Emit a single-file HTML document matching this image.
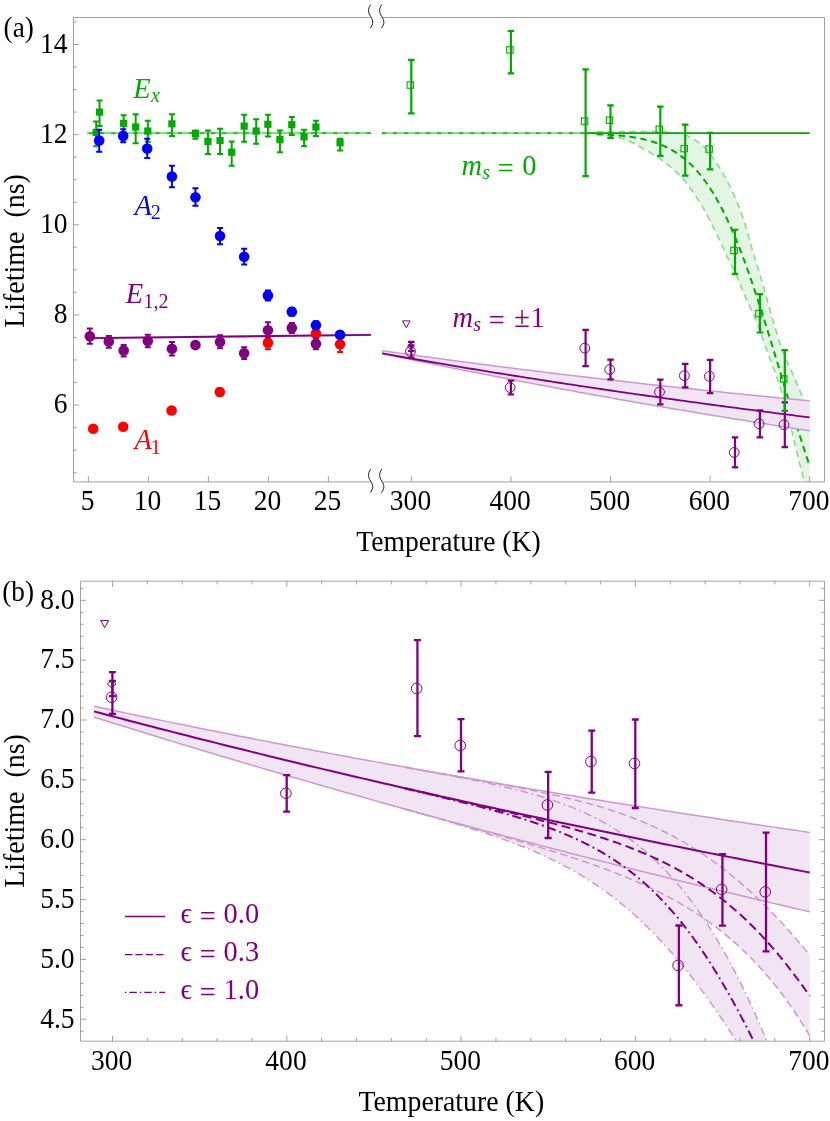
<!DOCTYPE html>
<html><head><meta charset="utf-8"><title>Lifetime vs Temperature</title>
<style>html,body{margin:0;padding:0;background:#fff;}svg{display:block;will-change:transform;}</style></head>
<body>
<svg width="830" height="1121" viewBox="0 0 830 1121">
<rect width="830" height="1121" fill="#fff"/>
<defs>
<clipPath id="ca"><rect x="73.5" y="17.5" width="751.0" height="464.4"/></clipPath>
<clipPath id="cb"><rect x="80.5" y="581.2" width="744.0" height="460.0"/></clipPath>
</defs>
<g clip-path="url(#ca)">
<path d="M87,133.06H371" stroke="#8fd88f" stroke-width="2.4"/>
<path d="M87,133.06H371" stroke="#00aa00" stroke-width="1.3" stroke-dasharray="4.2 6.9" stroke-dashoffset="-2"/>
<path d="M89.4,339.20L371,335.90L371,333.70L89.4,337.00Z" fill="#cc99cc" opacity="0.7"/>
<path d="M89.4,338.2L371,334.9" stroke="#800080" stroke-width="1.8"/>
<path d="M590.58,131.82 L591.31,131.80 L592.05,131.79 L592.78,131.77 L593.51,131.76 L594.24,131.74 L594.98,131.72 L595.71,131.71 L596.44,131.69 L597.18,131.67 L597.91,131.66 L598.64,131.64 L599.37,131.63 L600.11,131.61 L600.84,131.60 L601.57,131.58 L602.31,131.57 L603.04,131.56 L603.77,131.54 L604.50,131.53 L605.24,131.52 L605.97,131.51 L606.70,131.51 L607.44,131.50 L608.17,131.49 L608.90,131.49 L609.63,131.49 L610.37,131.49 L611.10,131.49 L611.83,131.49 L612.57,131.49 L613.30,131.49 L614.03,131.49 L614.76,131.49 L615.50,131.49 L616.23,131.49 L616.96,131.49 L617.70,131.49 L618.43,131.49 L619.16,131.49 L619.89,131.49 L620.63,131.49 L621.36,131.49 L622.09,131.49 L622.83,131.49 L623.56,131.49 L624.29,131.49 L625.02,131.49 L625.76,131.49 L626.49,131.49 L627.22,131.49 L627.95,131.49 L628.69,131.49 L629.42,131.49 L630.15,131.49 L630.89,131.49 L631.62,131.49 L632.35,131.49 L633.08,131.49 L633.82,131.49 L634.55,131.49 L635.28,131.49 L636.02,131.49 L636.75,131.49 L637.48,131.49 L638.21,131.49 L638.95,131.49 L639.68,131.49 L640.41,131.49 L641.15,131.49 L641.88,131.49 L642.61,131.49 L643.34,131.49 L644.08,131.49 L644.81,131.49 L645.54,131.49 L646.28,131.49 L647.01,131.49 L647.74,131.49 L648.47,131.49 L649.21,131.49 L649.94,131.49 L650.67,131.49 L651.41,131.49 L652.14,131.50 L652.87,131.51 L653.60,131.52 L654.34,131.53 L655.07,131.55 L655.80,131.57 L656.54,131.60 L657.27,131.62 L658.00,131.65 L658.73,131.68 L659.47,131.72 L660.20,131.75 L660.93,131.79 L661.67,131.83 L662.40,131.87 L663.13,131.91 L663.86,131.96 L664.60,132.00 L665.33,132.05 L666.06,132.10 L666.80,132.15 L667.53,132.20 L668.26,132.25 L668.99,132.30 L669.73,132.35 L670.46,132.40 L671.19,132.46 L671.93,132.52 L672.66,132.59 L673.39,132.66 L674.12,132.75 L674.86,132.83 L675.59,132.93 L676.32,133.03 L677.06,133.14 L677.79,133.25 L678.52,133.37 L679.25,133.50 L679.99,133.64 L680.72,133.78 L681.45,133.94 L682.19,134.12 L682.92,134.32 L683.65,134.54 L684.38,134.77 L685.12,135.03 L685.85,135.30 L686.58,135.59 L687.32,135.90 L688.05,136.22 L688.78,136.56 L689.51,136.91 L690.25,137.28 L690.98,137.66 L691.71,138.06 L692.45,138.47 L693.18,138.89 L693.91,139.33 L694.64,139.77 L695.38,140.23 L696.11,140.70 L696.84,141.18 L697.58,141.67 L698.31,142.17 L699.04,142.68 L699.77,143.19 L700.51,143.72 L701.24,144.25 L701.97,144.83 L702.70,145.46 L703.44,146.13 L704.17,146.86 L704.90,147.62 L705.64,148.42 L706.37,149.26 L707.10,150.13 L707.83,151.04 L708.57,151.97 L709.30,152.92 L710.03,153.89 L710.77,154.89 L711.50,155.90 L712.23,156.92 L712.96,157.95 L713.70,158.99 L714.43,160.03 L715.16,161.07 L715.90,162.12 L716.63,163.19 L717.36,164.29 L718.09,165.41 L718.83,166.56 L719.56,167.74 L720.29,168.94 L721.03,170.16 L721.76,171.40 L722.49,172.66 L723.22,173.95 L723.96,175.26 L724.69,176.59 L725.42,177.94 L726.16,179.30 L726.89,180.69 L727.62,182.10 L728.35,183.52 L729.09,184.96 L729.82,186.42 L730.55,187.89 L731.29,189.40 L732.02,190.92 L732.75,192.48 L733.48,194.06 L734.22,195.67 L734.95,197.31 L735.68,198.98 L736.42,200.69 L737.15,202.43 L737.88,204.21 L738.61,206.02 L739.35,207.88 L740.08,209.77 L740.81,211.71 L741.55,213.69 L742.28,215.72 L743.01,217.86 L743.74,220.10 L744.48,222.44 L745.21,224.86 L745.94,227.34 L746.68,229.87 L747.41,232.45 L748.14,235.05 L748.87,237.67 L749.61,240.29 L750.34,242.89 L751.07,245.48 L751.81,248.02 L752.54,250.52 L753.27,252.96 L754.00,255.36 L754.74,257.75 L755.47,260.12 L756.20,262.48 L756.94,264.83 L757.67,267.18 L758.40,269.54 L759.13,271.91 L759.87,274.29 L760.60,276.70 L761.33,279.13 L762.07,281.59 L762.80,284.09 L763.53,286.64 L764.26,289.24 L765.00,291.89 L765.73,294.56 L766.46,297.26 L767.20,299.96 L767.93,302.67 L768.66,305.38 L769.39,308.06 L770.13,310.72 L770.86,313.35 L771.59,315.92 L772.33,318.45 L773.06,320.91 L773.79,323.37 L774.52,325.83 L775.26,328.28 L775.99,330.72 L776.72,333.13 L777.45,335.52 L778.19,337.87 L778.92,340.17 L779.65,342.43 L780.39,344.64 L781.12,346.77 L781.85,348.84 L782.58,350.84 L783.32,352.75 L784.05,354.58 L784.78,356.34 L785.52,358.05 L786.25,359.71 L786.98,361.33 L787.71,362.92 L788.45,364.50 L789.18,366.07 L789.91,367.64 L790.65,369.22 L791.38,370.82 L792.11,372.46 L792.84,374.14 L793.58,375.84 L794.31,377.56 L795.04,379.29 L795.78,381.02 L796.51,382.77 L797.24,384.51 L797.97,386.26 L798.71,388.02 L799.44,389.77 L800.17,391.53 L800.91,393.28 L801.64,395.03 L802.37,396.77 L803.10,398.50 L803.84,400.24 L804.57,401.97 L805.30,403.70 L806.04,405.43 L806.77,407.16 L807.50,408.89 L808.23,410.62 L808.97,412.35 L809.70,414.07 L809.70,504.21 L808.97,500.94 L808.23,497.71 L807.50,494.54 L806.77,491.41 L806.04,488.33 L805.30,485.31 L804.57,482.33 L803.84,479.42 L803.10,476.61 L802.37,473.84 L801.64,471.10 L800.91,468.33 L800.17,465.53 L799.44,462.65 L798.71,459.72 L797.97,456.75 L797.24,453.74 L796.51,450.69 L795.78,447.63 L795.04,444.53 L794.31,441.43 L793.58,438.32 L792.84,435.20 L792.11,432.09 L791.38,428.99 L790.65,425.91 L789.91,422.85 L789.18,419.82 L788.45,416.82 L787.71,413.87 L786.98,410.96 L786.25,408.10 L785.52,405.31 L784.78,402.58 L784.05,399.92 L783.32,397.34 L782.58,394.84 L781.85,392.43 L781.12,390.09 L780.39,387.82 L779.65,385.60 L778.92,383.42 L778.19,381.28 L777.45,379.17 L776.72,377.07 L775.99,374.97 L775.26,372.88 L774.52,370.81 L773.79,368.76 L773.06,366.75 L772.33,364.75 L771.59,362.76 L770.86,360.80 L770.13,358.83 L769.39,356.88 L768.66,354.93 L767.93,352.97 L767.20,351.01 L766.46,349.04 L765.73,347.06 L765.00,345.06 L764.26,343.04 L763.53,341.00 L762.80,338.95 L762.07,336.89 L761.33,334.84 L760.60,332.80 L759.87,330.77 L759.13,328.76 L758.40,326.78 L757.67,324.84 L756.94,322.93 L756.20,321.08 L755.47,319.28 L754.74,317.52 L754.00,315.82 L753.27,314.15 L752.54,312.51 L751.81,310.90 L751.07,309.31 L750.34,307.74 L749.61,306.17 L748.87,304.60 L748.14,303.03 L747.41,301.45 L746.68,299.85 L745.94,298.22 L745.21,296.57 L744.48,294.88 L743.74,293.15 L743.01,291.38 L742.28,289.59 L741.55,287.78 L740.81,285.97 L740.08,284.16 L739.35,282.37 L738.61,280.60 L737.88,278.87 L737.15,277.18 L736.42,275.54 L735.68,273.95 L734.95,272.40 L734.22,270.89 L733.48,269.40 L732.75,267.94 L732.02,266.48 L731.29,265.04 L730.55,263.59 L729.82,262.13 L729.09,260.67 L728.35,259.18 L727.62,257.66 L726.89,256.12 L726.16,254.56 L725.42,252.98 L724.69,251.38 L723.96,249.78 L723.22,248.16 L722.49,246.55 L721.76,244.93 L721.03,243.31 L720.29,241.70 L719.56,240.10 L718.83,238.51 L718.09,236.93 L717.36,235.38 L716.63,233.84 L715.90,232.34 L715.16,230.86 L714.43,229.39 L713.70,227.93 L712.96,226.46 L712.23,225.01 L711.50,223.56 L710.77,222.12 L710.03,220.69 L709.30,219.27 L708.57,217.86 L707.83,216.47 L707.10,215.09 L706.37,213.74 L705.64,212.39 L704.90,211.07 L704.17,209.78 L703.44,208.50 L702.70,207.25 L701.97,206.02 L701.24,204.82 L700.51,203.65 L699.77,202.48 L699.04,201.32 L698.31,200.16 L697.58,199.02 L696.84,197.88 L696.11,196.74 L695.38,195.62 L694.64,194.51 L693.91,193.41 L693.18,192.33 L692.45,191.25 L691.71,190.19 L690.98,189.14 L690.25,188.11 L689.51,187.09 L688.78,186.09 L688.05,185.10 L687.32,184.13 L686.58,183.18 L685.85,182.25 L685.12,181.34 L684.38,180.45 L683.65,179.58 L682.92,178.73 L682.19,177.90 L681.45,177.10 L680.72,176.31 L679.99,175.55 L679.25,174.81 L678.52,174.08 L677.79,173.36 L677.06,172.65 L676.32,171.95 L675.59,171.27 L674.86,170.59 L674.12,169.93 L673.39,169.28 L672.66,168.64 L671.93,168.00 L671.19,167.38 L670.46,166.77 L669.73,166.17 L668.99,165.57 L668.26,164.98 L667.53,164.41 L666.80,163.84 L666.06,163.27 L665.33,162.72 L664.60,162.17 L663.86,161.63 L663.13,161.09 L662.40,160.56 L661.67,160.04 L660.93,159.52 L660.20,159.00 L659.47,158.49 L658.73,157.99 L658.00,157.48 L657.27,156.99 L656.54,156.51 L655.80,156.03 L655.07,155.56 L654.34,155.10 L653.60,154.64 L652.87,154.20 L652.14,153.75 L651.41,153.32 L650.67,152.89 L649.94,152.46 L649.21,152.04 L648.47,151.62 L647.74,151.21 L647.01,150.80 L646.28,150.39 L645.54,149.99 L644.81,149.58 L644.08,149.18 L643.34,148.78 L642.61,148.38 L641.88,147.98 L641.15,147.58 L640.41,147.18 L639.68,146.77 L638.95,146.35 L638.21,145.94 L637.48,145.52 L636.75,145.10 L636.02,144.67 L635.28,144.26 L634.55,143.84 L633.82,143.43 L633.08,143.03 L632.35,142.63 L631.62,142.24 L630.89,141.86 L630.15,141.49 L629.42,141.14 L628.69,140.79 L627.95,140.47 L627.22,140.16 L626.49,139.86 L625.76,139.59 L625.02,139.33 L624.29,139.10 L623.56,138.88 L622.83,138.66 L622.09,138.45 L621.36,138.24 L620.63,138.04 L619.89,137.85 L619.16,137.66 L618.43,137.48 L617.70,137.31 L616.96,137.14 L616.23,136.98 L615.50,136.83 L614.76,136.68 L614.03,136.55 L613.30,136.42 L612.57,136.29 L611.83,136.18 L611.10,136.07 L610.37,135.97 L609.63,135.88 L608.90,135.78 L608.17,135.69 L607.44,135.59 L606.70,135.50 L605.97,135.41 L605.24,135.32 L604.50,135.23 L603.77,135.15 L603.04,135.07 L602.31,135.00 L601.57,134.93 L600.84,134.87 L600.11,134.81 L599.37,134.77 L598.64,134.72 L597.91,134.69 L597.18,134.66 L596.44,134.65 L595.71,134.64 L594.98,134.64 L594.24,134.64 L593.51,134.64 L592.78,134.64 L592.05,134.64 L591.31,134.64 L590.58,134.64Z" fill="#e3f6e3"/>
<path d="M382.02,133.06H599.56" stroke="#8fd88f" stroke-width="2.2"/>
<path d="M596.56,131.69 L597.27,131.67 L597.98,131.66 L598.69,131.64 L599.41,131.63 L600.12,131.61 L600.83,131.60 L601.55,131.58 L602.26,131.57 L602.97,131.56 L603.68,131.54 L604.40,131.53 L605.11,131.52 L605.82,131.51 L606.54,131.51 L607.25,131.50 L607.96,131.49 L608.67,131.49 L609.39,131.49 L610.10,131.49 L610.81,131.49 L611.53,131.49 L612.24,131.49 L612.95,131.49 L613.66,131.49 L614.38,131.49 L615.09,131.49 L615.80,131.49 L616.52,131.49 L617.23,131.49 L617.94,131.49 L618.65,131.49 L619.37,131.49 L620.08,131.49 L620.79,131.49 L621.51,131.49 L622.22,131.49 L622.93,131.49 L623.64,131.49 L624.36,131.49 L625.07,131.49 L625.78,131.49 L626.50,131.49 L627.21,131.49 L627.92,131.49 L628.63,131.49 L629.35,131.49 L630.06,131.49 L630.77,131.49 L631.49,131.49 L632.20,131.49 L632.91,131.49 L633.62,131.49 L634.34,131.49 L635.05,131.49 L635.76,131.49 L636.48,131.49 L637.19,131.49 L637.90,131.49 L638.61,131.49 L639.33,131.49 L640.04,131.49 L640.75,131.49 L641.47,131.49 L642.18,131.49 L642.89,131.49 L643.60,131.49 L644.32,131.49 L645.03,131.49 L645.74,131.49 L646.46,131.49 L647.17,131.49 L647.88,131.49 L648.59,131.49 L649.31,131.49 L650.02,131.49 L650.73,131.49 L651.45,131.49 L652.16,131.50 L652.87,131.51 L653.58,131.52 L654.30,131.53 L655.01,131.55 L655.72,131.57 L656.44,131.59 L657.15,131.62 L657.86,131.65 L658.57,131.68 L659.29,131.71 L660.00,131.74 L660.71,131.78 L661.43,131.82 L662.14,131.86 L662.85,131.90 L663.56,131.94 L664.28,131.98 L664.99,132.03 L665.70,132.07 L666.42,132.12 L667.13,132.17 L667.84,132.22 L668.55,132.27 L669.27,132.32 L669.98,132.37 L670.69,132.42 L671.41,132.48 L672.12,132.54 L672.83,132.61 L673.54,132.68 L674.26,132.76 L674.97,132.85 L675.68,132.94 L676.40,133.04 L677.11,133.15 L677.82,133.26 L678.53,133.38 L679.25,133.50 L679.96,133.63 L680.67,133.77 L681.39,133.92 L682.10,134.10 L682.81,134.29 L683.52,134.50 L684.24,134.72 L684.95,134.97 L685.66,135.23 L686.38,135.51 L687.09,135.80 L687.80,136.11 L688.51,136.43 L689.23,136.77 L689.94,137.12 L690.65,137.49 L691.37,137.87 L692.08,138.26 L692.79,138.67 L693.50,139.08 L694.22,139.51 L694.93,139.95 L695.64,140.40 L696.36,140.86 L697.07,141.33 L697.78,141.81 L698.49,142.30 L699.21,142.79 L699.92,143.30 L700.63,143.81 L701.35,144.34 L702.06,144.90 L702.77,145.52 L703.48,146.18 L704.20,146.88 L704.91,147.63 L705.62,148.41 L706.34,149.22 L707.05,150.07 L707.76,150.94 L708.47,151.85 L709.19,152.77 L709.90,153.72 L710.61,154.68 L711.33,155.66 L712.04,156.65 L712.75,157.65 L713.46,158.66 L714.18,159.67 L714.89,160.68 L715.60,161.69 L716.32,162.73 L717.03,163.79 L717.74,164.87 L718.45,165.98 L719.17,167.11 L719.88,168.26 L720.59,169.43 L721.31,170.63 L722.02,171.85 L722.73,173.08 L723.44,174.34 L724.16,175.62 L724.87,176.92 L725.58,178.23 L726.30,179.57 L727.01,180.92 L727.72,182.29 L728.43,183.67 L729.15,185.08 L729.86,186.50 L730.57,187.94 L731.29,189.40 L732.00,190.88 L732.71,192.39 L733.42,193.93 L734.14,195.49 L734.85,197.08 L735.56,198.71 L736.28,200.36 L736.99,202.05 L737.70,203.77 L738.41,205.52 L739.13,207.32 L739.84,209.15 L740.55,211.02 L741.27,212.93 L741.98,214.88 L742.69,216.92 L743.40,219.05 L744.12,221.28 L744.83,223.59 L745.54,225.98 L746.26,228.41 L746.97,230.90 L747.68,233.41 L748.39,235.95 L749.11,238.50 L749.82,241.05 L750.53,243.58 L751.25,246.08 L751.96,248.55 L752.67,250.97 L753.38,253.33 L754.10,255.67 L754.81,257.99 L755.52,260.29 L756.24,262.58 L756.95,264.87 L757.66,267.16 L758.37,269.45 L759.09,271.76 L759.80,274.07 L760.51,276.41 L761.23,278.77 L761.94,281.16 L762.65,283.58 L763.36,286.06 L764.08,288.58 L764.79,291.14 L765.50,293.73 L766.22,296.35 L766.93,298.98 L767.64,301.61 L768.35,304.25 L769.07,306.87 L769.78,309.47 L770.49,312.04 L771.21,314.57 L771.92,317.06 L772.63,319.49 L773.34,321.88 L774.06,324.27 L774.77,326.66 L775.48,329.04 L776.20,331.40 L776.91,333.74 L777.62,336.05 L778.33,338.33 L779.05,340.57 L779.76,342.76 L780.47,344.89 L781.19,346.97 L781.90,348.97 L782.61,350.91 L783.32,352.76 L784.04,354.55 L784.75,356.26 L785.46,357.93 L786.18,359.54 L786.89,361.13 L787.60,362.68 L788.31,364.21 L789.03,365.74 L789.74,367.26 L790.45,368.80 L791.17,370.35 L791.88,371.94 L792.59,373.55 L793.30,375.21 L794.02,376.87 L794.73,378.55 L795.44,380.23 L796.16,381.93 L796.87,383.62 L797.58,385.33 L798.29,387.03 L799.01,388.74 L799.72,390.44 L800.43,392.15 L801.15,393.85 L801.86,395.55 L802.57,397.24 L803.28,398.93 L804.00,400.62 L804.71,402.30 L805.42,403.99 L806.14,405.67 L806.85,407.35 L807.56,409.03 L808.27,410.71 L808.99,412.39 L809.70,414.07" stroke="#8fd88f" stroke-width="1.6" fill="none" stroke-dasharray="6.5 4.5"/>
<path d="M596.56,134.65 L597.27,134.67 L597.98,134.69 L598.69,134.73 L599.41,134.77 L600.12,134.82 L600.83,134.87 L601.55,134.93 L602.26,135.00 L602.97,135.07 L603.68,135.14 L604.40,135.22 L605.11,135.30 L605.82,135.39 L606.54,135.48 L607.25,135.57 L607.96,135.66 L608.67,135.75 L609.39,135.85 L610.10,135.94 L610.81,136.03 L611.53,136.13 L612.24,136.24 L612.95,136.36 L613.66,136.48 L614.38,136.61 L615.09,136.75 L615.80,136.89 L616.52,137.04 L617.23,137.20 L617.94,137.37 L618.65,137.54 L619.37,137.72 L620.08,137.90 L620.79,138.09 L621.51,138.28 L622.22,138.49 L622.93,138.69 L623.64,138.90 L624.36,139.12 L625.07,139.35 L625.78,139.60 L626.50,139.86 L627.21,140.15 L627.92,140.45 L628.63,140.77 L629.35,141.10 L630.06,141.45 L630.77,141.80 L631.49,142.17 L632.20,142.55 L632.91,142.93 L633.62,143.32 L634.34,143.72 L635.05,144.12 L635.76,144.53 L636.48,144.94 L637.19,145.35 L637.90,145.76 L638.61,146.16 L639.33,146.57 L640.04,146.97 L640.75,147.37 L641.47,147.76 L642.18,148.15 L642.89,148.54 L643.60,148.92 L644.32,149.31 L645.03,149.70 L645.74,150.10 L646.46,150.49 L647.17,150.89 L647.88,151.29 L648.59,151.69 L649.31,152.10 L650.02,152.51 L650.73,152.92 L651.45,153.34 L652.16,153.77 L652.87,154.20 L653.58,154.63 L654.30,155.07 L655.01,155.52 L655.72,155.98 L656.44,156.44 L657.15,156.91 L657.86,157.39 L658.57,157.88 L659.29,158.37 L660.00,158.86 L660.71,159.36 L661.43,159.86 L662.14,160.37 L662.85,160.89 L663.56,161.41 L664.28,161.93 L664.99,162.46 L665.70,163.00 L666.42,163.54 L667.13,164.09 L667.84,164.65 L668.55,165.22 L669.27,165.79 L669.98,166.37 L670.69,166.96 L671.41,167.56 L672.12,168.17 L672.83,168.79 L673.54,169.41 L674.26,170.05 L674.97,170.70 L675.68,171.35 L676.40,172.02 L677.11,172.70 L677.82,173.39 L678.53,174.09 L679.25,174.80 L679.96,175.53 L680.67,176.27 L681.39,177.02 L682.10,177.80 L682.81,178.61 L683.52,179.43 L684.24,180.27 L684.95,181.13 L685.66,182.02 L686.38,182.92 L687.09,183.84 L687.80,184.77 L688.51,185.73 L689.23,186.70 L689.94,187.68 L690.65,188.68 L691.37,189.69 L692.08,190.72 L692.79,191.76 L693.50,192.81 L694.22,193.87 L694.93,194.95 L695.64,196.03 L696.36,197.12 L697.07,198.23 L697.78,199.34 L698.49,200.46 L699.21,201.58 L699.92,202.71 L700.63,203.85 L701.35,205.00 L702.06,206.17 L702.77,207.36 L703.48,208.58 L704.20,209.82 L704.91,211.09 L705.62,212.37 L706.34,213.67 L707.05,215.00 L707.76,216.33 L708.47,217.69 L709.19,219.05 L709.90,220.43 L710.61,221.82 L711.33,223.22 L712.04,224.63 L712.75,226.04 L713.46,227.46 L714.18,228.88 L714.89,230.31 L715.60,231.74 L716.32,233.20 L717.03,234.68 L717.74,236.18 L718.45,237.70 L719.17,239.24 L719.88,240.79 L720.59,242.36 L721.31,243.93 L722.02,245.50 L722.73,247.07 L723.44,248.65 L724.16,250.22 L724.87,251.78 L725.58,253.32 L726.30,254.86 L727.01,256.38 L727.72,257.87 L728.43,259.34 L729.15,260.79 L729.86,262.21 L730.57,263.63 L731.29,265.04 L732.00,266.44 L732.71,267.86 L733.42,269.28 L734.14,270.73 L734.85,272.19 L735.56,273.69 L736.28,275.23 L736.99,276.81 L737.70,278.45 L738.41,280.12 L739.13,281.84 L739.84,283.58 L740.55,285.33 L741.27,287.09 L741.98,288.85 L742.69,290.60 L743.40,292.33 L744.12,294.04 L744.83,295.70 L745.54,297.33 L746.26,298.92 L746.97,300.49 L747.68,302.04 L748.39,303.57 L749.11,305.10 L749.82,306.63 L750.53,308.15 L751.25,309.69 L751.96,311.24 L752.67,312.81 L753.38,314.40 L754.10,316.03 L754.81,317.70 L755.52,319.41 L756.24,321.16 L756.95,322.97 L757.66,324.82 L758.37,326.71 L759.09,328.63 L759.80,330.58 L760.51,332.55 L761.23,334.54 L761.94,336.54 L762.65,338.53 L763.36,340.53 L764.08,342.52 L764.79,344.49 L765.50,346.45 L766.22,348.38 L766.93,350.30 L767.64,352.21 L768.35,354.11 L769.07,356.01 L769.78,357.91 L770.49,359.81 L771.21,361.72 L771.92,363.65 L772.63,365.58 L773.34,367.53 L774.06,369.50 L774.77,371.50 L775.48,373.52 L776.20,375.56 L776.91,377.60 L777.62,379.65 L778.33,381.71 L779.05,383.80 L779.76,385.92 L780.47,388.08 L781.19,390.30 L781.90,392.58 L782.61,394.93 L783.32,397.36 L784.04,399.87 L784.75,402.46 L785.46,405.11 L786.18,407.82 L786.89,410.59 L787.60,413.41 L788.31,416.28 L789.03,419.19 L789.74,422.13 L790.45,425.10 L791.17,428.10 L791.88,431.11 L792.59,434.13 L793.30,437.16 L794.02,440.19 L794.73,443.21 L795.44,446.22 L796.16,449.22 L796.87,452.19 L797.58,455.14 L798.29,458.05 L799.01,460.93 L799.72,463.75 L800.43,466.53 L801.15,469.24 L801.86,471.92 L802.57,474.59 L803.28,477.29 L804.00,480.05 L804.71,482.89 L805.42,485.80 L806.14,488.75 L806.85,491.75 L807.56,494.80 L808.27,497.89 L808.99,501.03 L809.70,504.21" stroke="#8fd88f" stroke-width="1.6" fill="none" stroke-dasharray="6.5 4.5"/>
<path d="M584.60,133.06H809.70" stroke="#00aa00" stroke-width="1.8"/>
<path d="M382.02,133.06H596.56" stroke="#00aa00" stroke-width="1.3" stroke-dasharray="4.2 6.8"/>
<path d="M596.56,134.08 L597.27,134.11 L597.98,134.14 L598.69,134.17 L599.41,134.20 L600.12,134.23 L600.83,134.26 L601.55,134.29 L602.26,134.33 L602.97,134.36 L603.68,134.40 L604.40,134.43 L605.11,134.47 L605.82,134.51 L606.54,134.55 L607.25,134.59 L607.96,134.63 L608.67,134.68 L609.39,134.72 L610.10,134.77 L610.81,134.82 L611.53,134.87 L612.24,134.92 L612.95,134.97 L613.66,135.02 L614.38,135.08 L615.09,135.13 L615.80,135.19 L616.52,135.25 L617.23,135.31 L617.94,135.38 L618.65,135.44 L619.37,135.51 L620.08,135.58 L620.79,135.65 L621.51,135.72 L622.22,135.80 L622.93,135.87 L623.64,135.95 L624.36,136.03 L625.07,136.12 L625.78,136.20 L626.50,136.29 L627.21,136.38 L627.92,136.47 L628.63,136.57 L629.35,136.67 L630.06,136.77 L630.77,136.87 L631.49,136.98 L632.20,137.08 L632.91,137.20 L633.62,137.31 L634.34,137.43 L635.05,137.55 L635.76,137.67 L636.48,137.80 L637.19,137.93 L637.90,138.06 L638.61,138.20 L639.33,138.34 L640.04,138.48 L640.75,138.63 L641.47,138.78 L642.18,138.94 L642.89,139.09 L643.60,139.26 L644.32,139.42 L645.03,139.60 L645.74,139.77 L646.46,139.95 L647.17,140.13 L647.88,140.32 L648.59,140.52 L649.31,140.71 L650.02,140.92 L650.73,141.13 L651.45,141.34 L652.16,141.56 L652.87,141.78 L653.58,142.01 L654.30,142.24 L655.01,142.48 L655.72,142.72 L656.44,142.97 L657.15,143.23 L657.86,143.49 L658.57,143.76 L659.29,144.04 L660.00,144.32 L660.71,144.60 L661.43,144.90 L662.14,145.20 L662.85,145.51 L663.56,145.82 L664.28,146.14 L664.99,146.47 L665.70,146.81 L666.42,147.15 L667.13,147.50 L667.84,147.86 L668.55,148.22 L669.27,148.60 L669.98,148.98 L670.69,149.37 L671.41,149.77 L672.12,150.18 L672.83,150.59 L673.54,151.02 L674.26,151.45 L674.97,151.90 L675.68,152.35 L676.40,152.81 L677.11,153.28 L677.82,153.76 L678.53,154.25 L679.25,154.75 L679.96,155.27 L680.67,155.79 L681.39,156.32 L682.10,156.86 L682.81,157.41 L683.52,157.98 L684.24,158.55 L684.95,159.14 L685.66,159.74 L686.38,160.35 L687.09,160.97 L687.80,161.60 L688.51,162.25 L689.23,162.90 L689.94,163.57 L690.65,164.25 L691.37,164.95 L692.08,165.66 L692.79,166.38 L693.50,167.11 L694.22,167.86 L694.93,168.62 L695.64,169.39 L696.36,170.18 L697.07,170.98 L697.78,171.80 L698.49,172.63 L699.21,173.47 L699.92,174.33 L700.63,175.21 L701.35,176.10 L702.06,177.00 L702.77,177.92 L703.48,178.85 L704.20,179.80 L704.91,180.77 L705.62,181.75 L706.34,182.74 L707.05,183.76 L707.76,184.79 L708.47,185.83 L709.19,186.89 L709.90,187.97 L710.61,189.06 L711.33,190.17 L712.04,191.30 L712.75,192.44 L713.46,193.61 L714.18,194.78 L714.89,195.98 L715.60,197.19 L716.32,198.42 L717.03,199.67 L717.74,200.94 L718.45,202.22 L719.17,203.52 L719.88,204.84 L720.59,206.17 L721.31,207.53 L722.02,208.90 L722.73,210.29 L723.44,211.69 L724.16,213.12 L724.87,214.56 L725.58,216.02 L726.30,217.50 L727.01,219.00 L727.72,220.51 L728.43,222.05 L729.15,223.60 L729.86,225.17 L730.57,226.75 L731.29,228.36 L732.00,229.98 L732.71,231.62 L733.42,233.28 L734.14,234.95 L734.85,236.65 L735.56,238.36 L736.28,240.09 L736.99,241.83 L737.70,243.60 L738.41,245.38 L739.13,247.17 L739.84,248.99 L740.55,250.82 L741.27,252.67 L741.98,254.53 L742.69,256.41 L743.40,258.31 L744.12,260.22 L744.83,262.15 L745.54,264.09 L746.26,266.05 L746.97,268.03 L747.68,270.02 L748.39,272.02 L749.11,274.04 L749.82,276.07 L750.53,278.12 L751.25,280.18 L751.96,282.26 L752.67,284.35 L753.38,286.45 L754.10,288.57 L754.81,290.69 L755.52,292.83 L756.24,294.99 L756.95,297.15 L757.66,299.32 L758.37,301.51 L759.09,303.71 L759.80,305.92 L760.51,308.13 L761.23,310.36 L761.94,312.60 L762.65,314.85 L763.36,317.10 L764.08,319.37 L764.79,321.64 L765.50,323.92 L766.22,326.21 L766.93,328.51 L767.64,330.81 L768.35,333.12 L769.07,335.43 L769.78,337.75 L770.49,340.08 L771.21,342.41 L771.92,344.74 L772.63,347.08 L773.34,349.43 L774.06,351.78 L774.77,354.13 L775.48,356.48 L776.20,358.84 L776.91,361.19 L777.62,363.55 L778.33,365.91 L779.05,368.27 L779.76,370.64 L780.47,373.00 L781.19,375.36 L781.90,377.72 L782.61,380.08 L783.32,382.44 L784.04,384.80 L784.75,387.15 L785.46,389.51 L786.18,391.86 L786.89,394.20 L787.60,396.55 L788.31,398.89 L789.03,401.22 L789.74,403.56 L790.45,405.88 L791.17,408.20 L791.88,410.52 L792.59,412.83 L793.30,415.13 L794.02,417.43 L794.73,419.72 L795.44,422.01 L796.16,424.28 L796.87,426.55 L797.58,428.82 L798.29,431.07 L799.01,433.31 L799.72,435.55 L800.43,437.78 L801.15,440.00 L801.86,442.21 L802.57,444.41 L803.28,446.59 L804.00,448.77 L804.71,450.94 L805.42,453.10 L806.14,455.25 L806.85,457.39 L807.56,459.51 L808.27,461.63 L808.99,463.73 L809.70,465.82" stroke="#00aa00" stroke-width="2.0" fill="none" stroke-dasharray="6.5 4.5"/>
<path d="M382.02,350.68 L386.34,351.29 L390.66,351.91 L394.98,352.52 L399.30,353.13 L403.62,353.74 L407.94,354.35 L412.26,354.95 L416.58,355.55 L420.90,356.15 L425.22,356.74 L429.54,357.33 L433.86,357.92 L438.18,358.51 L442.50,359.09 L446.82,359.68 L451.14,360.25 L455.46,360.83 L459.78,361.40 L464.10,361.98 L468.42,362.55 L472.74,363.11 L477.06,363.68 L481.38,364.24 L485.70,364.80 L490.02,365.35 L494.34,365.91 L498.66,366.46 L502.98,367.01 L507.30,367.56 L511.62,368.10 L515.94,368.65 L520.26,369.19 L524.58,369.73 L528.90,370.26 L533.22,370.80 L537.54,371.33 L541.86,371.86 L546.18,372.38 L550.50,372.91 L554.82,373.43 L559.14,373.95 L563.46,374.47 L567.78,374.99 L572.10,375.50 L576.42,376.01 L580.74,376.52 L585.06,377.03 L589.38,377.54 L593.70,378.04 L598.02,378.54 L602.34,379.04 L606.66,379.54 L610.98,380.03 L615.30,380.53 L619.62,381.02 L623.94,381.51 L628.26,382.00 L632.58,382.48 L636.90,382.97 L641.22,383.45 L645.54,383.93 L649.86,384.41 L654.18,384.88 L658.50,385.36 L662.82,385.83 L667.14,386.30 L671.46,386.77 L675.78,387.23 L680.10,387.70 L684.42,388.16 L688.74,388.62 L693.06,389.08 L697.38,389.54 L701.70,389.99 L706.02,390.45 L710.34,390.90 L714.66,391.35 L718.98,391.80 L723.30,392.25 L727.62,392.69 L731.94,393.14 L736.26,393.58 L740.58,394.02 L744.90,394.46 L749.22,394.89 L753.54,395.33 L757.86,395.76 L762.18,396.19 L766.50,396.62 L770.82,397.05 L775.14,397.48 L779.46,397.90 L783.78,398.33 L788.10,398.75 L792.42,399.17 L796.74,399.59 L801.06,400.01 L805.38,400.42 L809.70,400.84 L809.70,430.73 L805.38,430.07 L801.06,429.40 L796.74,428.73 L792.42,428.07 L788.10,427.39 L783.78,426.72 L779.46,426.05 L775.14,425.37 L770.82,424.69 L766.50,424.01 L762.18,423.32 L757.86,422.63 L753.54,421.94 L749.22,421.25 L744.90,420.56 L740.58,419.86 L736.26,419.17 L731.94,418.46 L727.62,417.76 L723.30,417.06 L718.98,416.35 L714.66,415.64 L710.34,414.93 L706.02,414.21 L701.70,413.49 L697.38,412.77 L693.06,412.05 L688.74,411.33 L684.42,410.60 L680.10,409.87 L675.78,409.14 L671.46,408.41 L667.14,407.67 L662.82,406.93 L658.50,406.19 L654.18,405.45 L649.86,404.70 L645.54,403.96 L641.22,403.20 L636.90,402.45 L632.58,401.70 L628.26,400.94 L623.94,400.18 L619.62,399.41 L615.30,398.65 L610.98,397.88 L606.66,397.11 L602.34,396.34 L598.02,395.56 L593.70,394.78 L589.38,394.00 L585.06,393.22 L580.74,392.43 L576.42,391.65 L572.10,390.86 L567.78,390.06 L563.46,389.27 L559.14,388.47 L554.82,387.67 L550.50,386.86 L546.18,386.06 L541.86,385.25 L537.54,384.44 L533.22,383.62 L528.90,382.81 L524.58,381.99 L520.26,381.17 L515.94,380.34 L511.62,379.52 L507.30,378.69 L502.98,377.85 L498.66,377.02 L494.34,376.18 L490.02,375.34 L485.70,374.50 L481.38,373.66 L477.06,372.81 L472.74,371.96 L468.42,371.10 L464.10,370.25 L459.78,369.39 L455.46,368.53 L451.14,367.66 L446.82,366.80 L442.50,365.93 L438.18,365.06 L433.86,364.18 L429.54,363.30 L425.22,362.42 L420.90,361.54 L416.58,360.66 L412.26,359.77 L407.94,358.88 L403.62,357.98 L399.30,357.09 L394.98,356.19 L390.66,355.29 L386.34,354.38 L382.02,353.61Z" fill="#f1e5f3"/>
<path d="M382.02,350.68 L386.34,351.29 L390.66,351.91 L394.98,352.52 L399.30,353.13 L403.62,353.74 L407.94,354.35 L412.26,354.95 L416.58,355.55 L420.90,356.15 L425.22,356.74 L429.54,357.33 L433.86,357.92 L438.18,358.51 L442.50,359.09 L446.82,359.68 L451.14,360.25 L455.46,360.83 L459.78,361.40 L464.10,361.98 L468.42,362.55 L472.74,363.11 L477.06,363.68 L481.38,364.24 L485.70,364.80 L490.02,365.35 L494.34,365.91 L498.66,366.46 L502.98,367.01 L507.30,367.56 L511.62,368.10 L515.94,368.65 L520.26,369.19 L524.58,369.73 L528.90,370.26 L533.22,370.80 L537.54,371.33 L541.86,371.86 L546.18,372.38 L550.50,372.91 L554.82,373.43 L559.14,373.95 L563.46,374.47 L567.78,374.99 L572.10,375.50 L576.42,376.01 L580.74,376.52 L585.06,377.03 L589.38,377.54 L593.70,378.04 L598.02,378.54 L602.34,379.04 L606.66,379.54 L610.98,380.03 L615.30,380.53 L619.62,381.02 L623.94,381.51 L628.26,382.00 L632.58,382.48 L636.90,382.97 L641.22,383.45 L645.54,383.93 L649.86,384.41 L654.18,384.88 L658.50,385.36 L662.82,385.83 L667.14,386.30 L671.46,386.77 L675.78,387.23 L680.10,387.70 L684.42,388.16 L688.74,388.62 L693.06,389.08 L697.38,389.54 L701.70,389.99 L706.02,390.45 L710.34,390.90 L714.66,391.35 L718.98,391.80 L723.30,392.25 L727.62,392.69 L731.94,393.14 L736.26,393.58 L740.58,394.02 L744.90,394.46 L749.22,394.89 L753.54,395.33 L757.86,395.76 L762.18,396.19 L766.50,396.62 L770.82,397.05 L775.14,397.48 L779.46,397.90 L783.78,398.33 L788.10,398.75 L792.42,399.17 L796.74,399.59 L801.06,400.01 L805.38,400.42 L809.70,400.84" stroke="#cc99cc" stroke-width="1.5" fill="none"/>
<path d="M382.02,353.61 L386.34,354.38 L390.66,355.29 L394.98,356.19 L399.30,357.09 L403.62,357.98 L407.94,358.88 L412.26,359.77 L416.58,360.66 L420.90,361.54 L425.22,362.42 L429.54,363.30 L433.86,364.18 L438.18,365.06 L442.50,365.93 L446.82,366.80 L451.14,367.66 L455.46,368.53 L459.78,369.39 L464.10,370.25 L468.42,371.10 L472.74,371.96 L477.06,372.81 L481.38,373.66 L485.70,374.50 L490.02,375.34 L494.34,376.18 L498.66,377.02 L502.98,377.85 L507.30,378.69 L511.62,379.52 L515.94,380.34 L520.26,381.17 L524.58,381.99 L528.90,382.81 L533.22,383.62 L537.54,384.44 L541.86,385.25 L546.18,386.06 L550.50,386.86 L554.82,387.67 L559.14,388.47 L563.46,389.27 L567.78,390.06 L572.10,390.86 L576.42,391.65 L580.74,392.43 L585.06,393.22 L589.38,394.00 L593.70,394.78 L598.02,395.56 L602.34,396.34 L606.66,397.11 L610.98,397.88 L615.30,398.65 L619.62,399.41 L623.94,400.18 L628.26,400.94 L632.58,401.70 L636.90,402.45 L641.22,403.20 L645.54,403.96 L649.86,404.70 L654.18,405.45 L658.50,406.19 L662.82,406.93 L667.14,407.67 L671.46,408.41 L675.78,409.14 L680.10,409.87 L684.42,410.60 L688.74,411.33 L693.06,412.05 L697.38,412.77 L701.70,413.49 L706.02,414.21 L710.34,414.93 L714.66,415.64 L718.98,416.35 L723.30,417.06 L727.62,417.76 L731.94,418.46 L736.26,419.17 L740.58,419.86 L744.90,420.56 L749.22,421.25 L753.54,421.94 L757.86,422.63 L762.18,423.32 L766.50,424.01 L770.82,424.69 L775.14,425.37 L779.46,426.05 L783.78,426.72 L788.10,427.39 L792.42,428.07 L796.74,428.73 L801.06,429.40 L805.38,430.07 L809.70,430.73" stroke="#cc99cc" stroke-width="1.5" fill="none"/>
<path d="M382.02,353.43 L386.34,354.20 L390.66,354.97 L394.98,355.73 L399.30,356.50 L403.62,357.25 L407.94,358.01 L412.26,358.76 L416.58,359.51 L420.90,360.26 L425.22,361.01 L429.54,361.75 L433.86,362.49 L438.18,363.22 L442.50,363.96 L446.82,364.69 L451.14,365.41 L455.46,366.14 L459.78,366.86 L464.10,367.58 L468.42,368.30 L472.74,369.01 L477.06,369.72 L481.38,370.43 L485.70,371.14 L490.02,371.84 L494.34,372.54 L498.66,373.24 L502.98,373.93 L507.30,374.63 L511.62,375.32 L515.94,376.00 L520.26,376.69 L524.58,377.37 L528.90,378.05 L533.22,378.73 L537.54,379.40 L541.86,380.08 L546.18,380.75 L550.50,381.41 L554.82,382.08 L559.14,382.74 L563.46,383.40 L567.78,384.06 L572.10,384.72 L576.42,385.37 L580.74,386.02 L585.06,386.67 L589.38,387.31 L593.70,387.96 L598.02,388.60 L602.34,389.24 L606.66,389.87 L610.98,390.51 L615.30,391.14 L619.62,391.77 L623.94,392.40 L628.26,393.02 L632.58,393.65 L636.90,394.27 L641.22,394.89 L645.54,395.50 L649.86,396.12 L654.18,396.73 L658.50,397.34 L662.82,397.95 L667.14,398.55 L671.46,399.16 L675.78,399.76 L680.10,400.36 L684.42,400.96 L688.74,401.55 L693.06,402.14 L697.38,402.73 L701.70,403.32 L706.02,403.91 L710.34,404.50 L714.66,405.08 L718.98,405.66 L723.30,406.24 L727.62,406.82 L731.94,407.39 L736.26,407.96 L740.58,408.53 L744.90,409.10 L749.22,409.67 L753.54,410.23 L757.86,410.80 L762.18,411.36 L766.50,411.92 L770.82,412.48 L775.14,413.03 L779.46,413.58 L783.78,414.14 L788.10,414.69 L792.42,415.23 L796.74,415.78 L801.06,416.32 L805.38,416.87 L809.70,417.41" stroke="#800080" stroke-width="1.8" fill="none"/>
<path d="M96.20,121.57V146.36M93.20,121.57H99.20M93.20,146.36H99.20" stroke="#00aa00" stroke-width="2.0" fill="none"/>
<rect x="92.60" y="128.79" width="7.2" height="7.2" fill="#00aa00"/>
<path d="M99.56,100.39V126.08M96.56,100.39H102.56M96.56,126.08H102.56" stroke="#00aa00" stroke-width="2.0" fill="none"/>
<rect x="95.96" y="108.51" width="7.2" height="7.2" fill="#00aa00"/>
<path d="M123.68,115.26V131.94M120.68,115.26H126.68M120.68,131.94H126.68" stroke="#00aa00" stroke-width="2.0" fill="none"/>
<rect x="120.08" y="119.77" width="7.2" height="7.2" fill="#00aa00"/>
<path d="M135.68,114.36V143.20M132.68,114.36H138.68M132.68,143.20H138.68" stroke="#00aa00" stroke-width="2.0" fill="none"/>
<rect x="132.08" y="123.38" width="7.2" height="7.2" fill="#00aa00"/>
<path d="M147.80,120.67V141.85M144.80,120.67H150.80M144.80,141.85H150.80" stroke="#00aa00" stroke-width="2.0" fill="none"/>
<rect x="144.20" y="127.43" width="7.2" height="7.2" fill="#00aa00"/>
<path d="M171.92,114.36V135.99M168.92,114.36H174.92M168.92,135.99H174.92" stroke="#00aa00" stroke-width="2.0" fill="none"/>
<rect x="168.32" y="120.22" width="7.2" height="7.2" fill="#00aa00"/>
<path d="M195.44,130.58V138.70M192.44,130.58H198.44M192.44,138.70H198.44" stroke="#00aa00" stroke-width="2.0" fill="none"/>
<rect x="191.84" y="130.14" width="7.2" height="7.2" fill="#00aa00"/>
<path d="M207.92,130.58V154.02M204.92,130.58H210.92M204.92,154.02H210.92" stroke="#00aa00" stroke-width="2.0" fill="none"/>
<rect x="204.32" y="137.80" width="7.2" height="7.2" fill="#00aa00"/>
<path d="M220.04,128.78V154.02M217.04,128.78H223.04M217.04,154.02H223.04" stroke="#00aa00" stroke-width="2.0" fill="none"/>
<rect x="216.44" y="136.90" width="7.2" height="7.2" fill="#00aa00"/>
<path d="M231.68,141.40V165.74M228.68,141.40H234.68M228.68,165.74H234.68" stroke="#00aa00" stroke-width="2.0" fill="none"/>
<rect x="228.08" y="148.62" width="7.2" height="7.2" fill="#00aa00"/>
<path d="M244.16,114.81V141.85M241.16,114.81H247.16M241.16,141.85H247.16" stroke="#00aa00" stroke-width="2.0" fill="none"/>
<rect x="240.56" y="122.48" width="7.2" height="7.2" fill="#00aa00"/>
<path d="M256.16,119.32V143.65M253.16,119.32H259.16M253.16,143.65H259.16" stroke="#00aa00" stroke-width="2.0" fill="none"/>
<rect x="252.56" y="127.43" width="7.2" height="7.2" fill="#00aa00"/>
<path d="M267.92,114.81V136.44M264.92,114.81H270.92M264.92,136.44H270.92" stroke="#00aa00" stroke-width="2.0" fill="none"/>
<rect x="264.32" y="120.67" width="7.2" height="7.2" fill="#00aa00"/>
<path d="M279.92,130.58V152.22M276.92,130.58H282.92M276.92,152.22H282.92" stroke="#00aa00" stroke-width="2.0" fill="none"/>
<rect x="276.32" y="136.00" width="7.2" height="7.2" fill="#00aa00"/>
<path d="M291.80,117.06V135.09M288.80,117.06H294.80M288.80,135.09H294.80" stroke="#00aa00" stroke-width="2.0" fill="none"/>
<rect x="288.20" y="121.12" width="7.2" height="7.2" fill="#00aa00"/>
<path d="M304.04,129.68V146.36M301.04,129.68H307.04M301.04,146.36H307.04" stroke="#00aa00" stroke-width="2.0" fill="none"/>
<rect x="300.44" y="133.29" width="7.2" height="7.2" fill="#00aa00"/>
<path d="M315.92,120.67V135.99M312.92,120.67H318.92M312.92,135.99H318.92" stroke="#00aa00" stroke-width="2.0" fill="none"/>
<rect x="312.32" y="123.38" width="7.2" height="7.2" fill="#00aa00"/>
<path d="M340.04,138.70V150.41M337.04,138.70H343.04M337.04,150.41H343.04" stroke="#00aa00" stroke-width="2.0" fill="none"/>
<rect x="336.44" y="139.15" width="7.2" height="7.2" fill="#00aa00"/>
<path d="M93.20,426.24V431.20M90.20,426.24H96.20M90.20,431.20H96.20" stroke="#ff0000" stroke-width="2.0" fill="none"/>
<circle cx="93.20" cy="428.72" r="5.3" fill="#ff0000"/>
<path d="M123.20,424.44V428.95M120.20,424.44H126.20M120.20,428.95H126.20" stroke="#ff0000" stroke-width="2.0" fill="none"/>
<circle cx="123.20" cy="426.69" r="5.3" fill="#ff0000"/>
<path d="M171.56,407.76V413.17M168.56,407.76H174.56M168.56,413.17H174.56" stroke="#ff0000" stroke-width="2.0" fill="none"/>
<circle cx="171.56" cy="410.47" r="5.3" fill="#ff0000"/>
<path d="M219.80,388.38V395.60M216.80,388.38H222.80M216.80,395.60H222.80" stroke="#ff0000" stroke-width="2.0" fill="none"/>
<circle cx="219.80" cy="391.99" r="5.3" fill="#ff0000"/>
<path d="M267.92,336.55V349.17M264.92,336.55H270.92M264.92,349.17H270.92" stroke="#ff0000" stroke-width="2.0" fill="none"/>
<circle cx="267.92" cy="342.86" r="5.3" fill="#ff0000"/>
<path d="M315.92,328.44V338.36M312.92,328.44H318.92M312.92,338.36H318.92" stroke="#ff0000" stroke-width="2.0" fill="none"/>
<circle cx="315.92" cy="333.40" r="5.3" fill="#ff0000"/>
<path d="M340.04,337.45V351.88M337.04,337.45H343.04M337.04,351.88H343.04" stroke="#ff0000" stroke-width="2.0" fill="none"/>
<circle cx="340.04" cy="344.22" r="5.3" fill="#ff0000"/>
<path d="M89.84,328.44V343.76M86.84,328.44H92.84M86.84,343.76H92.84" stroke="#800080" stroke-width="2.0" fill="none"/>
<circle cx="89.84" cy="336.28" r="5.3" fill="#800080"/>
<path d="M108.80,336.10V347.82M105.80,336.10H111.80M105.80,347.82H111.80" stroke="#800080" stroke-width="2.0" fill="none"/>
<circle cx="108.80" cy="341.51" r="5.3" fill="#800080"/>
<path d="M123.68,345.12V356.38M120.68,345.12H126.68M120.68,356.38H126.68" stroke="#800080" stroke-width="2.0" fill="none"/>
<circle cx="123.68" cy="350.53" r="5.3" fill="#800080"/>
<path d="M147.80,334.75V347.37M144.80,334.75H150.80M144.80,347.37H150.80" stroke="#800080" stroke-width="2.0" fill="none"/>
<circle cx="147.80" cy="341.06" r="5.3" fill="#800080"/>
<path d="M171.92,341.96V355.48M168.92,341.96H174.92M168.92,355.48H174.92" stroke="#800080" stroke-width="2.0" fill="none"/>
<circle cx="171.92" cy="348.72" r="5.3" fill="#800080"/>
<path d="M195.44,342.41V347.82M192.44,342.41H198.44M192.44,347.82H198.44" stroke="#800080" stroke-width="2.0" fill="none"/>
<circle cx="195.44" cy="345.12" r="5.3" fill="#800080"/>
<path d="M220.04,335.20V348.27M217.04,335.20H223.04M217.04,348.27H223.04" stroke="#800080" stroke-width="2.0" fill="none"/>
<circle cx="220.04" cy="341.96" r="5.3" fill="#800080"/>
<path d="M244.16,347.37V359.09M241.16,347.37H247.16M241.16,359.09H247.16" stroke="#800080" stroke-width="2.0" fill="none"/>
<circle cx="244.16" cy="353.23" r="5.3" fill="#800080"/>
<path d="M267.92,322.13V337.45M264.92,322.13H270.92M264.92,337.45H270.92" stroke="#800080" stroke-width="2.0" fill="none"/>
<circle cx="267.92" cy="330.24" r="5.3" fill="#800080"/>
<path d="M291.80,323.03V332.95M288.80,323.03H294.80M288.80,332.95H294.80" stroke="#800080" stroke-width="2.0" fill="none"/>
<circle cx="291.80" cy="327.99" r="5.3" fill="#800080"/>
<path d="M315.92,338.36V349.17M312.92,338.36H318.92M312.92,349.17H318.92" stroke="#800080" stroke-width="2.0" fill="none"/>
<circle cx="315.92" cy="343.76" r="5.3" fill="#800080"/>
<path d="M99.20,129.68V151.77M96.20,129.68H102.20M96.20,151.77H102.20" stroke="#0000ff" stroke-width="2.0" fill="none"/>
<circle cx="99.20" cy="140.50" r="5.3" fill="#0000ff"/>
<path d="M123.20,129.23V142.30M120.20,129.23H126.20M120.20,142.30H126.20" stroke="#0000ff" stroke-width="2.0" fill="none"/>
<circle cx="123.20" cy="135.99" r="5.3" fill="#0000ff"/>
<path d="M147.20,138.70V158.08M144.20,138.70H150.20M144.20,158.08H150.20" stroke="#0000ff" stroke-width="2.0" fill="none"/>
<circle cx="147.20" cy="148.61" r="5.3" fill="#0000ff"/>
<path d="M171.92,165.74V187.37M168.92,165.74H174.92M168.92,187.37H174.92" stroke="#0000ff" stroke-width="2.0" fill="none"/>
<circle cx="171.92" cy="176.56" r="5.3" fill="#0000ff"/>
<path d="M195.44,188.27V205.85M192.44,188.27H198.44M192.44,205.85H198.44" stroke="#0000ff" stroke-width="2.0" fill="none"/>
<circle cx="195.44" cy="197.29" r="5.3" fill="#0000ff"/>
<path d="M220.04,227.93V244.16M217.04,227.93H223.04M217.04,244.16H223.04" stroke="#0000ff" stroke-width="2.0" fill="none"/>
<circle cx="220.04" cy="236.05" r="5.3" fill="#0000ff"/>
<path d="M244.16,248.67V264.44M241.16,248.67H247.16M241.16,264.44H247.16" stroke="#0000ff" stroke-width="2.0" fill="none"/>
<circle cx="244.16" cy="256.78" r="5.3" fill="#0000ff"/>
<path d="M267.92,290.58V300.50M264.92,290.58H270.92M264.92,300.50H270.92" stroke="#0000ff" stroke-width="2.0" fill="none"/>
<circle cx="267.92" cy="295.54" r="5.3" fill="#0000ff"/>
<path d="M291.80,307.71V315.82M288.80,307.71H294.80M288.80,315.82H294.80" stroke="#0000ff" stroke-width="2.0" fill="none"/>
<circle cx="291.80" cy="311.77" r="5.3" fill="#0000ff"/>
<path d="M315.92,321.23V329.34M312.92,321.23H318.92M312.92,329.34H318.92" stroke="#0000ff" stroke-width="2.0" fill="none"/>
<circle cx="315.92" cy="325.29" r="5.3" fill="#0000ff"/>
<path d="M340.04,331.60V337.91M337.04,331.60H343.04M337.04,337.91H343.04" stroke="#0000ff" stroke-width="2.0" fill="none"/>
<circle cx="340.04" cy="334.75" r="5.3" fill="#0000ff"/>
<path d="M411.30,341.96V357.74M408.05,341.96H414.55M408.05,357.74H414.55" stroke="#800080" stroke-width="2.2" fill="none"/>
<circle cx="410.50" cy="351.43" r="4.9" fill="none" stroke="#800080" stroke-width="1"/>
<path d="M510.90,380.72V394.51M507.65,380.72H514.15M507.65,394.51H514.15" stroke="#800080" stroke-width="2.2" fill="none"/>
<circle cx="510.10" cy="387.57" r="4.9" fill="none" stroke="#800080" stroke-width="1"/>
<path d="M585.60,329.88V366.03M582.35,329.88H588.85M582.35,366.03H588.85" stroke="#800080" stroke-width="2.2" fill="none"/>
<circle cx="584.80" cy="348.14" r="4.9" fill="none" stroke="#800080" stroke-width="1"/>
<path d="M610.50,359.63V379.37M607.25,359.63H613.75M607.25,379.37H613.75" stroke="#800080" stroke-width="2.2" fill="none"/>
<circle cx="609.70" cy="369.59" r="4.9" fill="none" stroke="#800080" stroke-width="1"/>
<path d="M660.30,379.55V404.43M657.05,379.55H663.55M657.05,404.43H663.55" stroke="#800080" stroke-width="2.2" fill="none"/>
<circle cx="659.50" cy="391.99" r="4.9" fill="none" stroke="#800080" stroke-width="1"/>
<path d="M685.20,363.96V387.30M681.95,363.96H688.45M681.95,387.30H688.45" stroke="#800080" stroke-width="2.2" fill="none"/>
<circle cx="684.40" cy="375.63" r="4.9" fill="none" stroke="#800080" stroke-width="1"/>
<path d="M710.10,359.81V393.12M706.85,359.81H713.35M706.85,393.12H713.35" stroke="#800080" stroke-width="2.2" fill="none"/>
<circle cx="709.30" cy="376.35" r="4.9" fill="none" stroke="#800080" stroke-width="1"/>
<path d="M735.00,437.38V467.39M731.75,437.38H738.25M731.75,467.39H738.25" stroke="#800080" stroke-width="2.2" fill="none"/>
<circle cx="734.20" cy="452.38" r="4.9" fill="none" stroke="#800080" stroke-width="1"/>
<path d="M759.90,410.47V437.42M756.65,410.47H763.15M756.65,437.42H763.15" stroke="#800080" stroke-width="2.2" fill="none"/>
<circle cx="759.10" cy="423.76" r="4.9" fill="none" stroke="#800080" stroke-width="1"/>
<path d="M784.80,402.40V447.11M781.55,402.40H788.05M781.55,447.11H788.05" stroke="#800080" stroke-width="2.2" fill="none"/>
<circle cx="784.00" cy="424.71" r="4.9" fill="none" stroke="#800080" stroke-width="1"/>
<path d="M411.30,59.82V113.46M408.05,59.82H414.55M408.05,113.46H414.55" stroke="#00aa00" stroke-width="2.2" fill="none"/>
<rect x="407.10" y="81.86" width="6.4" height="6.4" fill="none" stroke="#00aa00" stroke-width="1.1"/>
<path d="M510.90,30.98V73.34M507.65,30.98H514.15M507.65,73.34H514.15" stroke="#00aa00" stroke-width="2.2" fill="none"/>
<rect x="506.70" y="46.71" width="6.4" height="6.4" fill="none" stroke="#00aa00" stroke-width="1.1"/>
<path d="M585.60,69.29V176.10M582.35,69.29H588.85M582.35,176.10H588.85" stroke="#00aa00" stroke-width="2.2" fill="none"/>
<rect x="581.40" y="117.92" width="6.4" height="6.4" fill="none" stroke="#00aa00" stroke-width="1.1"/>
<path d="M610.50,105.34V137.79M607.25,105.34H613.75M607.25,137.79H613.75" stroke="#00aa00" stroke-width="2.2" fill="none"/>
<rect x="606.30" y="117.02" width="6.4" height="6.4" fill="none" stroke="#00aa00" stroke-width="1.1"/>
<path d="M660.30,106.70V155.82M657.05,106.70H663.55M657.05,155.82H663.55" stroke="#00aa00" stroke-width="2.2" fill="none"/>
<rect x="656.10" y="126.03" width="6.4" height="6.4" fill="none" stroke="#00aa00" stroke-width="1.1"/>
<path d="M685.20,124.72V175.65M681.95,124.72H688.45M681.95,175.65H688.45" stroke="#00aa00" stroke-width="2.2" fill="none"/>
<rect x="681.00" y="145.41" width="6.4" height="6.4" fill="none" stroke="#00aa00" stroke-width="1.1"/>
<path d="M710.10,132.84V169.34M706.85,132.84H713.35M706.85,169.34H713.35" stroke="#00aa00" stroke-width="2.2" fill="none"/>
<rect x="705.90" y="145.86" width="6.4" height="6.4" fill="none" stroke="#00aa00" stroke-width="1.1"/>
<path d="M735.00,229.74V273.91M731.75,229.74H738.25M731.75,273.91H738.25" stroke="#00aa00" stroke-width="2.2" fill="none"/>
<rect x="730.80" y="247.27" width="6.4" height="6.4" fill="none" stroke="#00aa00" stroke-width="1.1"/>
<path d="M759.90,294.19V332.50M756.65,294.19H763.15M756.65,332.50H763.15" stroke="#00aa00" stroke-width="2.2" fill="none"/>
<rect x="755.70" y="310.37" width="6.4" height="6.4" fill="none" stroke="#00aa00" stroke-width="1.1"/>
<path d="M784.80,350.07V410.92M781.55,350.07H788.05M781.55,410.92H788.05" stroke="#00aa00" stroke-width="2.2" fill="none"/>
<rect x="780.60" y="375.72" width="6.4" height="6.4" fill="none" stroke="#00aa00" stroke-width="1.1"/>
<path d="M411.30,345.30V350.98M408.05,345.30H414.55M408.05,350.98H414.55" stroke="#800080" stroke-width="2.2" fill="none"/>
<path d="M402.52,320.89H410.12L406.32,327.73Z" fill="none" stroke="#800080" stroke-width="1"/>
<path d="M407.50,346.47L410.50,343.47L413.50,346.47L410.50,349.47Z" fill="none" stroke="#800080" stroke-width="1"/>
</g>
<path d="M73.5,481.9V17.5H370.7M382.7,17.5H824.5V481.9H382.7M370.7,481.9H73.5 M73.5,472.67h3.2 M73.5,450.13h3.2 M73.5,427.60h3.2 M73.5,405.06h5.6 M73.5,382.52h3.2 M73.5,359.99h3.2 M73.5,337.45h3.2 M73.5,314.92h5.6 M73.5,292.38h3.2 M73.5,269.85h3.2 M73.5,247.31h3.2 M73.5,224.78h5.6 M73.5,202.25h3.2 M73.5,179.71h3.2 M73.5,157.18h3.2 M73.5,134.64h5.6 M73.5,112.11h3.2 M73.5,89.57h3.2 M73.5,67.03h3.2 M73.5,44.50h5.6 M73.5,21.96h3.2 M88.40,481.9v-5.6 M148.40,481.9v-5.6 M208.40,481.9v-5.6 M268.40,481.9v-5.6 M328.40,481.9v-5.6 M411.30,481.9v-5.6 M510.90,481.9v-5.6 M610.50,481.9v-5.6 M710.10,481.9v-5.6 M809.70,481.9v-5.6" stroke="#8a8a8a" stroke-width="0.8" fill="none"/>
<path d="M370.50,4.90C367.50,9.10 368.10,12.40 370.70,16.60S373.70,23.60 370.50,27.80 M381.60,4.90C378.60,9.10 379.20,12.40 381.80,16.60S384.80,23.60 381.60,27.80 M370.50,469.50C367.50,473.70 368.10,477.00 370.70,481.20S373.70,488.20 370.50,492.40 M381.60,469.50C378.60,473.70 379.20,477.00 381.80,481.20S384.80,488.20 381.60,492.40" stroke="#1a1a1a" stroke-width="1.0" fill="none" stroke-linecap="round"/>
<text transform="translate(3.60,36.60) scale(0.96,1)" font-size="28.4" font-family="Liberation Serif, serif" text-anchor="start" fill="#000">(a)</text>
<text transform="translate(67.50,52.80) scale(0.97,1)" font-size="28.4" font-family="Liberation Serif, serif" text-anchor="end" fill="#000" >14</text>
<text transform="translate(67.50,142.94) scale(0.97,1)" font-size="28.4" font-family="Liberation Serif, serif" text-anchor="end" fill="#000" >12</text>
<text transform="translate(67.50,233.08) scale(0.97,1)" font-size="28.4" font-family="Liberation Serif, serif" text-anchor="end" fill="#000" >10</text>
<text transform="translate(67.50,323.22) scale(0.97,1)" font-size="28.4" font-family="Liberation Serif, serif" text-anchor="end" fill="#000" >8</text>
<text transform="translate(67.50,413.36) scale(0.97,1)" font-size="28.4" font-family="Liberation Serif, serif" text-anchor="end" fill="#000" >6</text>
<text transform="translate(87.60,510.20) scale(0.97,1)" font-size="28.4" font-family="Liberation Serif, serif" text-anchor="middle" fill="#000" >5</text>
<text transform="translate(147.60,510.20) scale(0.97,1)" font-size="28.4" font-family="Liberation Serif, serif" text-anchor="middle" fill="#000" >10</text>
<text transform="translate(207.60,510.20) scale(0.97,1)" font-size="28.4" font-family="Liberation Serif, serif" text-anchor="middle" fill="#000" >15</text>
<text transform="translate(267.60,510.20) scale(0.97,1)" font-size="28.4" font-family="Liberation Serif, serif" text-anchor="middle" fill="#000" >20</text>
<text transform="translate(327.60,510.20) scale(0.97,1)" font-size="28.4" font-family="Liberation Serif, serif" text-anchor="middle" fill="#000" >25</text>
<text transform="translate(410.50,510.20) scale(0.97,1)" font-size="28.4" font-family="Liberation Serif, serif" text-anchor="middle" fill="#000" >300</text>
<text transform="translate(510.10,510.20) scale(0.97,1)" font-size="28.4" font-family="Liberation Serif, serif" text-anchor="middle" fill="#000" >400</text>
<text transform="translate(609.70,510.20) scale(0.97,1)" font-size="28.4" font-family="Liberation Serif, serif" text-anchor="middle" fill="#000" >500</text>
<text transform="translate(709.30,510.20) scale(0.97,1)" font-size="28.4" font-family="Liberation Serif, serif" text-anchor="middle" fill="#000" >600</text>
<text transform="translate(808.90,510.20) scale(0.97,1)" font-size="28.4" font-family="Liberation Serif, serif" text-anchor="middle" fill="#000" >700</text>
<text transform="translate(448.50,551.10) scale(0.972,1)" font-size="28.4" font-family="Liberation Serif, serif" text-anchor="middle" fill="#000">Temperature (K)</text>
<text transform="translate(24.1,251.0) rotate(-90) scale(0.985,1)" font-size="28.4" font-family="Liberation Serif, serif" text-anchor="middle" fill="#000" xml:space="preserve">Lifetime  (ns)</text>
<text x="133.20" y="97.90" font-size="28.4" font-family="Liberation Serif, serif" fill="#00aa00" font-style="italic">E<tspan font-size="20.0" font-style="italic" dx="0.5" dy="4.2">x</tspan></text>
<text x="134.50" y="214.70" font-size="28.4" font-family="Liberation Serif, serif" fill="#0000ff" font-style="italic">A<tspan font-size="20.0" font-style="normal" dx="-1.0" dy="4.2">2</tspan></text>
<text x="125.70" y="303.30" font-size="28.4" font-family="Liberation Serif, serif" fill="#800080" font-style="italic">E<tspan font-size="20.0" font-style="normal" dx="0.5" dy="4.2">1,2</tspan></text>
<text x="134.50" y="449.30" font-size="28.4" font-family="Liberation Serif, serif" fill="#ff0000" font-style="italic">A<tspan font-size="20.0" font-style="normal" dx="-1.0" dy="4.2">1</tspan></text>
<text x="461.50" y="175.00" font-size="28.4" font-family="Liberation Serif, serif" fill="#00aa00"><tspan font-style="italic">m</tspan><tspan font-size="20" font-style="italic" dx="0.3" dy="4.3">s</tspan><tspan dy="-1.3" dx="7.6">=</tspan><tspan dy="-3" dx="8.6">0</tspan></text>
<text x="452.50" y="326.50" font-size="28.4" font-family="Liberation Serif, serif" fill="#800080"><tspan font-style="italic">m</tspan><tspan font-size="20" font-style="italic" dx="0.3" dy="4.3">s</tspan><tspan dy="-1.3" dx="7.6">=</tspan><tspan dy="-2.2" dx="9.6">±</tspan><tspan dx="0.5" dy="-0.8">1</tspan></text>
<g clip-path="url(#cb)">
<path d="M93.85,706.25 L101.08,707.79 L108.31,709.32 L115.54,710.85 L122.77,712.38 L130.00,713.89 L137.23,715.40 L144.47,716.90 L151.70,718.40 L158.93,719.89 L166.16,721.38 L173.39,722.86 L180.62,724.33 L187.85,725.79 L195.08,727.25 L202.31,728.71 L209.54,730.16 L216.77,731.60 L224.00,733.03 L231.24,734.46 L238.47,735.89 L245.70,737.31 L252.93,738.72 L260.16,740.12 L267.39,741.53 L274.62,742.92 L281.85,744.31 L289.08,745.69 L296.31,747.07 L303.54,748.45 L310.77,749.81 L318.00,751.18 L325.24,752.53 L332.47,753.88 L339.70,755.23 L346.93,756.57 L354.16,757.90 L361.39,759.23 L368.62,760.56 L375.85,761.88 L383.08,763.19 L390.31,764.50 L397.54,765.80 L404.77,767.10 L412.01,768.39 L419.24,769.68 L426.47,770.96 L433.70,772.24 L440.93,773.51 L448.16,774.78 L455.39,776.05 L462.62,777.30 L469.85,778.56 L477.08,779.81 L484.31,781.05 L491.54,782.29 L498.78,783.52 L506.01,784.75 L513.24,785.98 L520.47,787.20 L527.70,788.41 L534.93,789.62 L542.16,790.83 L549.39,792.03 L556.62,793.23 L563.85,794.42 L571.08,795.61 L578.31,796.79 L585.54,797.97 L592.78,799.14 L600.01,800.31 L607.24,801.48 L614.47,802.64 L621.70,803.80 L628.93,804.95 L636.16,806.10 L643.39,807.24 L650.62,808.38 L657.85,809.52 L665.08,810.65 L672.31,811.78 L679.55,812.90 L686.78,814.02 L694.01,815.14 L701.24,816.25 L708.47,817.35 L715.70,818.46 L722.93,819.55 L730.16,820.65 L737.39,821.74 L744.62,822.83 L751.85,823.91 L759.08,824.99 L766.32,826.06 L773.55,827.13 L780.78,828.20 L788.01,829.26 L795.24,830.32 L802.47,831.38 L809.70,832.43 L809.70,911.82 L802.47,910.14 L795.24,908.45 L788.01,906.76 L780.78,905.06 L773.55,903.36 L766.32,901.65 L759.08,899.93 L751.85,898.21 L744.62,896.49 L737.39,894.76 L730.16,893.02 L722.93,891.28 L715.70,889.53 L708.47,887.78 L701.24,886.02 L694.01,884.26 L686.78,882.49 L679.55,880.71 L672.31,878.93 L665.08,877.14 L657.85,875.35 L650.62,873.55 L643.39,871.75 L636.16,869.94 L628.93,868.12 L621.70,866.30 L614.47,864.48 L607.24,862.64 L600.01,860.81 L592.78,858.96 L585.54,857.11 L578.31,855.26 L571.08,853.40 L563.85,851.53 L556.62,849.66 L549.39,847.78 L542.16,845.89 L534.93,844.00 L527.70,842.10 L520.47,840.20 L513.24,838.29 L506.01,836.38 L498.78,834.46 L491.54,832.53 L484.31,830.60 L477.08,828.66 L469.85,826.72 L462.62,824.77 L455.39,822.81 L448.16,820.85 L440.93,818.88 L433.70,816.90 L426.47,814.92 L419.24,812.94 L412.01,810.94 L404.77,808.94 L397.54,806.94 L390.31,804.93 L383.08,802.91 L375.85,800.88 L368.62,798.85 L361.39,796.82 L354.16,794.77 L346.93,792.73 L339.70,790.67 L332.47,788.61 L325.24,786.54 L318.00,784.47 L310.77,782.39 L303.54,780.30 L296.31,778.21 L289.08,776.11 L281.85,774.00 L274.62,771.89 L267.39,769.77 L260.16,767.65 L252.93,765.51 L245.70,763.38 L238.47,761.23 L231.24,759.08 L224.00,756.92 L216.77,754.76 L209.54,752.59 L202.31,750.41 L195.08,748.23 L187.85,746.04 L180.62,743.85 L173.39,741.64 L166.16,739.43 L158.93,737.22 L151.70,735.00 L144.47,732.77 L137.23,730.53 L130.00,728.29 L122.77,726.04 L115.54,723.79 L108.31,721.53 L101.08,719.26 L93.85,716.98Z" fill="#f1e5f3"/>
<path d="M405.32,767.21 L407.36,767.57 L409.39,767.94 L411.42,768.30 L413.45,768.67 L415.48,769.03 L417.52,769.39 L419.55,769.76 L421.58,770.12 L423.61,770.48 L425.64,770.84 L427.68,771.21 L429.71,771.57 L431.74,771.93 L433.77,772.29 L435.80,772.65 L437.84,773.02 L439.87,773.38 L441.90,773.74 L443.93,774.10 L445.96,774.46 L448.00,774.82 L450.03,775.19 L452.06,775.55 L454.09,775.91 L456.13,776.27 L458.16,776.63 L460.19,777.00 L462.22,777.36 L464.25,777.72 L466.29,778.08 L468.32,778.45 L470.35,778.81 L472.38,779.17 L474.41,779.54 L476.45,779.90 L478.48,780.27 L480.51,780.64 L482.54,781.00 L484.57,781.37 L486.61,781.74 L488.64,782.11 L490.67,782.48 L492.70,782.85 L494.73,783.23 L496.77,783.60 L498.80,783.98 L500.83,784.35 L502.86,784.73 L504.89,785.11 L506.93,785.49 L508.96,785.87 L510.99,786.26 L513.02,786.64 L515.05,787.03 L517.09,787.42 L519.12,787.82 L521.15,788.21 L523.18,788.61 L525.21,789.01 L527.25,789.41 L529.28,789.81 L531.31,790.22 L533.34,790.63 L535.37,791.05 L537.41,791.47 L539.44,791.89 L541.47,792.31 L543.50,792.74 L545.53,793.17 L547.57,793.61 L549.60,794.05 L551.63,794.49 L553.66,794.94 L555.69,795.39 L557.73,795.85 L559.76,796.31 L561.79,796.78 L563.82,797.26 L565.86,797.73 L567.89,798.22 L569.92,798.71 L571.95,799.21 L573.98,799.71 L576.02,800.22 L578.05,800.73 L580.08,801.26 L582.11,801.79 L584.14,802.32 L586.18,802.87 L588.21,803.42 L590.24,803.98 L592.27,804.55 L594.30,805.12 L596.34,805.71 L598.37,806.30 L600.40,806.90 L602.43,807.52 L604.46,808.14 L606.50,808.77 L608.53,809.41 L610.56,810.06 L612.59,810.72 L614.62,811.39 L616.66,812.07 L618.69,812.77 L620.72,813.47 L622.75,814.19 L624.78,814.91 L626.82,815.65 L628.85,816.40 L630.88,817.17 L632.91,817.95 L634.94,818.73 L636.98,819.54 L639.01,820.35 L641.04,821.18 L643.07,822.03 L645.10,822.88 L647.14,823.76 L649.17,824.64 L651.20,825.54 L653.23,826.46 L655.26,827.39 L657.30,828.34 L659.33,829.30 L661.36,830.28 L663.39,831.27 L665.43,832.29 L667.46,833.31 L669.49,834.36 L671.52,835.42 L673.55,836.50 L675.59,837.59 L677.62,838.71 L679.65,839.84 L681.68,840.99 L683.71,842.16 L685.75,843.34 L687.78,844.55 L689.81,845.77 L691.84,847.01 L693.87,848.27 L695.91,849.55 L697.94,850.85 L699.97,852.17 L702.00,853.51 L704.03,854.87 L706.07,856.25 L708.10,857.65 L710.13,859.07 L712.16,860.51 L714.19,861.97 L716.23,863.46 L718.26,864.96 L720.29,866.48 L722.32,868.03 L724.35,869.60 L726.39,871.18 L728.42,872.79 L730.45,874.42 L732.48,876.08 L734.51,877.75 L736.55,879.45 L738.58,881.16 L740.61,882.90 L742.64,884.67 L744.67,886.45 L746.71,888.26 L748.74,890.08 L750.77,891.93 L752.80,893.81 L754.83,895.70 L756.87,897.62 L758.90,899.55 L760.93,901.52 L762.96,903.50 L765.00,905.50 L767.03,907.53 L769.06,909.58 L771.09,911.65 L773.12,913.75 L775.16,915.86 L777.19,918.00 L779.22,920.16 L781.25,922.34 L783.28,924.55 L785.32,926.77 L787.35,929.02 L789.38,931.29 L791.41,933.58 L793.44,935.89 L795.48,938.22 L797.51,940.58 L799.54,942.95 L801.57,945.35 L803.60,947.77 L805.64,950.20 L807.67,952.66 L809.70,955.14 L809.70,1035.55 L807.67,1032.15 L805.64,1028.82 L803.60,1025.54 L801.57,1022.32 L799.54,1019.15 L797.51,1016.04 L795.48,1012.99 L793.44,1009.99 L791.41,1007.04 L789.38,1004.14 L787.35,1001.29 L785.32,998.50 L783.28,995.75 L781.25,993.05 L779.22,990.39 L777.19,987.79 L775.16,985.22 L773.12,982.71 L771.09,980.23 L769.06,977.80 L767.03,975.42 L765.00,973.07 L762.96,970.76 L760.93,968.50 L758.90,966.27 L756.87,964.08 L754.83,961.93 L752.80,959.82 L750.77,957.74 L748.74,955.70 L746.71,953.69 L744.67,951.72 L742.64,949.78 L740.61,947.87 L738.58,946.00 L736.55,944.16 L734.51,942.34 L732.48,940.56 L730.45,938.81 L728.42,937.09 L726.39,935.40 L724.35,933.73 L722.32,932.09 L720.29,930.48 L718.26,928.90 L716.23,927.34 L714.19,925.81 L712.16,924.30 L710.13,922.81 L708.10,921.35 L706.07,919.91 L704.03,918.50 L702.00,917.11 L699.97,915.73 L697.94,914.38 L695.91,913.06 L693.87,911.75 L691.84,910.46 L689.81,909.19 L687.78,907.94 L685.75,906.71 L683.71,905.50 L681.68,904.30 L679.65,903.12 L677.62,901.96 L675.59,900.82 L673.55,899.69 L671.52,898.58 L669.49,897.49 L667.46,896.41 L665.43,895.34 L663.39,894.29 L661.36,893.25 L659.33,892.23 L657.30,891.22 L655.26,890.22 L653.23,889.24 L651.20,888.27 L649.17,887.31 L647.14,886.36 L645.10,885.43 L643.07,884.50 L641.04,883.59 L639.01,882.69 L636.98,881.80 L634.94,880.91 L632.91,880.04 L630.88,879.18 L628.85,878.33 L626.82,877.49 L624.78,876.65 L622.75,875.83 L620.72,875.01 L618.69,874.21 L616.66,873.41 L614.62,872.61 L612.59,871.83 L610.56,871.05 L608.53,870.29 L606.50,869.52 L604.46,868.77 L602.43,868.02 L600.40,867.28 L598.37,866.54 L596.34,865.81 L594.30,865.09 L592.27,864.37 L590.24,863.66 L588.21,862.95 L586.18,862.25 L584.14,861.56 L582.11,860.87 L580.08,860.18 L578.05,859.50 L576.02,858.82 L573.98,858.15 L571.95,857.48 L569.92,856.82 L567.89,856.16 L565.86,855.50 L563.82,854.85 L561.79,854.20 L559.76,853.56 L557.73,852.92 L555.69,852.28 L553.66,851.64 L551.63,851.01 L549.60,850.38 L547.57,849.76 L545.53,849.14 L543.50,848.52 L541.47,847.90 L539.44,847.28 L537.41,846.67 L535.37,846.06 L533.34,845.45 L531.31,844.85 L529.28,844.24 L527.25,843.64 L525.21,843.04 L523.18,842.44 L521.15,841.85 L519.12,841.25 L517.09,840.66 L515.05,840.07 L513.02,839.48 L510.99,838.89 L508.96,838.30 L506.93,837.72 L504.89,837.13 L502.86,836.55 L500.83,835.97 L498.80,835.39 L496.77,834.81 L494.73,834.23 L492.70,833.65 L490.67,833.08 L488.64,832.50 L486.61,831.92 L484.57,831.35 L482.54,830.78 L480.51,830.20 L478.48,829.63 L476.45,829.06 L474.41,828.49 L472.38,827.92 L470.35,827.35 L468.32,826.78 L466.29,826.21 L464.25,825.64 L462.22,825.07 L460.19,824.50 L458.16,823.94 L456.13,823.37 L454.09,822.80 L452.06,822.23 L450.03,821.67 L448.00,821.10 L445.96,820.53 L443.93,819.97 L441.90,819.40 L439.87,818.83 L437.84,818.27 L435.80,817.70 L433.77,817.13 L431.74,816.57 L429.71,816.00 L427.68,815.44 L425.64,814.87 L423.61,814.30 L421.58,813.74 L419.55,813.17 L417.52,812.60 L415.48,812.04 L413.45,811.47 L411.42,810.90 L409.39,810.33 L407.36,809.77 L405.32,809.20Z" fill="#f1e5f3"/>
<path d="M405.32,767.30 L407.36,767.67 L409.39,768.04 L411.42,768.41 L413.45,768.78 L415.48,769.16 L417.52,769.53 L419.55,769.90 L421.58,770.28 L423.61,770.65 L425.64,771.03 L427.68,771.40 L429.71,771.78 L431.74,772.16 L433.77,772.54 L435.80,772.91 L437.84,773.29 L439.87,773.67 L441.90,774.06 L443.93,774.44 L445.96,774.82 L448.00,775.21 L450.03,775.59 L452.06,775.98 L454.09,776.37 L456.13,776.76 L458.16,777.16 L460.19,777.55 L462.22,777.95 L464.25,778.35 L466.29,778.75 L468.32,779.15 L470.35,779.56 L472.38,779.97 L474.41,780.38 L476.45,780.80 L478.48,781.21 L480.51,781.63 L482.54,782.06 L484.57,782.49 L486.61,782.92 L488.64,783.35 L490.67,783.79 L492.70,784.24 L494.73,784.68 L496.77,785.13 L498.80,785.59 L500.83,786.05 L502.86,786.52 L504.89,786.99 L506.93,787.47 L508.96,787.95 L510.99,788.44 L513.02,788.94 L515.05,789.44 L517.09,789.95 L519.12,790.47 L521.15,790.99 L523.18,791.52 L525.21,792.06 L527.25,792.61 L529.28,793.17 L531.31,793.73 L533.34,794.30 L535.37,794.89 L537.41,795.48 L539.44,796.08 L541.47,796.69 L543.50,797.32 L545.53,797.95 L547.57,798.60 L549.60,799.25 L551.63,799.92 L553.66,800.60 L555.69,801.30 L557.73,802.00 L559.76,802.72 L561.79,803.46 L563.82,804.21 L565.86,804.97 L567.89,805.75 L569.92,806.54 L571.95,807.35 L573.98,808.18 L576.02,809.02 L578.05,809.88 L580.08,810.76 L582.11,811.66 L584.14,812.57 L586.18,813.51 L588.21,814.46 L590.24,815.43 L592.27,816.43 L594.30,817.44 L596.34,818.48 L598.37,819.54 L600.40,820.62 L602.43,821.72 L604.46,822.85 L606.50,824.00 L608.53,825.18 L610.56,826.38 L612.59,827.61 L614.62,828.86 L616.66,830.14 L618.69,831.45 L620.72,832.79 L622.75,834.15 L624.78,835.55 L626.82,836.97 L628.85,838.42 L630.88,839.91 L632.91,841.42 L634.94,842.97 L636.98,844.55 L639.01,846.16 L641.04,847.81 L643.07,849.49 L645.10,851.21 L647.14,852.96 L649.17,854.75 L651.20,856.58 L653.23,858.44 L655.26,860.34 L657.30,862.28 L659.33,864.26 L661.36,866.28 L663.39,868.34 L665.43,870.44 L667.46,872.58 L669.49,874.77 L671.52,877.00 L673.55,879.27 L675.59,881.59 L677.62,883.95 L679.65,886.35 L681.68,888.81 L683.71,891.31 L685.75,893.86 L687.78,896.45 L689.81,899.10 L691.84,901.79 L693.87,904.54 L695.91,907.33 L697.94,910.18 L699.97,913.08 L702.00,916.03 L704.03,919.04 L706.07,922.10 L708.10,925.21 L710.13,928.38 L712.16,931.60 L714.19,934.88 L716.23,938.22 L718.26,941.61 L720.29,945.07 L722.32,948.58 L724.35,952.15 L726.39,955.78 L728.42,959.47 L730.45,963.23 L732.48,967.04 L734.51,970.92 L736.55,974.86 L738.58,978.86 L740.61,982.93 L742.64,987.06 L744.67,991.26 L746.71,995.52 L748.74,999.85 L750.77,1004.24 L752.80,1008.71 L754.83,1013.24 L756.87,1017.84 L758.90,1022.50 L760.93,1027.24 L762.96,1032.05 L765.00,1036.92 L767.03,1041.87 L769.06,1046.89 L771.09,1051.98 L773.12,1057.15 L775.16,1062.38 L777.19,1067.69 L779.22,1073.08 L781.25,1078.53 L783.28,1084.07 L785.32,1089.67 L787.35,1095.35 L789.38,1101.11 L791.41,1106.95 L793.44,1112.86 L795.48,1118.84 L797.51,1124.91 L799.54,1131.05 L801.57,1137.27 L803.60,1143.57 L805.64,1149.95 L807.67,1156.41 L809.70,1162.94 L809.70,1172.43 L807.67,1168.45 L805.64,1164.48 L803.60,1160.53 L801.57,1156.59 L799.54,1152.67 L797.51,1148.77 L795.48,1144.88 L793.44,1141.02 L791.41,1137.17 L789.38,1133.34 L787.35,1129.53 L785.32,1125.74 L783.28,1121.97 L781.25,1118.22 L779.22,1114.49 L777.19,1110.78 L775.16,1107.09 L773.12,1103.43 L771.09,1099.78 L769.06,1096.16 L767.03,1092.56 L765.00,1088.98 L762.96,1085.43 L760.93,1081.89 L758.90,1078.39 L756.87,1074.90 L754.83,1071.44 L752.80,1068.01 L750.77,1064.59 L748.74,1061.21 L746.71,1057.85 L744.67,1054.51 L742.64,1051.20 L740.61,1047.92 L738.58,1044.66 L736.55,1041.42 L734.51,1038.22 L732.48,1035.04 L730.45,1031.88 L728.42,1028.76 L726.39,1025.66 L724.35,1022.59 L722.32,1019.54 L720.29,1016.52 L718.26,1013.53 L716.23,1010.57 L714.19,1007.64 L712.16,1004.73 L710.13,1001.85 L708.10,999.00 L706.07,996.18 L704.03,993.39 L702.00,990.62 L699.97,987.89 L697.94,985.18 L695.91,982.50 L693.87,979.85 L691.84,977.23 L689.81,974.64 L687.78,972.07 L685.75,969.54 L683.71,967.03 L681.68,964.55 L679.65,962.10 L677.62,959.68 L675.59,957.29 L673.55,954.92 L671.52,952.59 L669.49,950.28 L667.46,948.00 L665.43,945.75 L663.39,943.53 L661.36,941.33 L659.33,939.17 L657.30,937.03 L655.26,934.92 L653.23,932.84 L651.20,930.78 L649.17,928.75 L647.14,926.75 L645.10,924.78 L643.07,922.83 L641.04,920.91 L639.01,919.02 L636.98,917.15 L634.94,915.31 L632.91,913.49 L630.88,911.70 L628.85,909.94 L626.82,908.20 L624.78,906.49 L622.75,904.80 L620.72,903.14 L618.69,901.50 L616.66,899.88 L614.62,898.29 L612.59,896.73 L610.56,895.18 L608.53,893.66 L606.50,892.16 L604.46,890.69 L602.43,889.24 L600.40,887.81 L598.37,886.40 L596.34,885.01 L594.30,883.64 L592.27,882.30 L590.24,880.98 L588.21,879.67 L586.18,878.39 L584.14,877.12 L582.11,875.88 L580.08,874.65 L578.05,873.45 L576.02,872.26 L573.98,871.09 L571.95,869.93 L569.92,868.80 L567.89,867.68 L565.86,866.58 L563.82,865.50 L561.79,864.43 L559.76,863.38 L557.73,862.34 L555.69,861.32 L553.66,860.32 L551.63,859.32 L549.60,858.35 L547.57,857.38 L545.53,856.44 L543.50,855.50 L541.47,854.58 L539.44,853.67 L537.41,852.77 L535.37,851.89 L533.34,851.01 L531.31,850.15 L529.28,849.30 L527.25,848.46 L525.21,847.63 L523.18,846.82 L521.15,846.01 L519.12,845.21 L517.09,844.42 L515.05,843.64 L513.02,842.87 L510.99,842.11 L508.96,841.36 L506.93,840.61 L504.89,839.87 L502.86,839.14 L500.83,838.42 L498.80,837.71 L496.77,837.00 L494.73,836.30 L492.70,835.60 L490.67,834.92 L488.64,834.23 L486.61,833.56 L484.57,832.89 L482.54,832.22 L480.51,831.56 L478.48,830.90 L476.45,830.25 L474.41,829.61 L472.38,828.97 L470.35,828.33 L468.32,827.69 L466.29,827.06 L464.25,826.44 L462.22,825.82 L460.19,825.20 L458.16,824.58 L456.13,823.97 L454.09,823.36 L452.06,822.75 L450.03,822.14 L448.00,821.54 L445.96,820.94 L443.93,820.34 L441.90,819.75 L439.87,819.15 L437.84,818.56 L435.80,817.97 L433.77,817.38 L431.74,816.79 L429.71,816.21 L427.68,815.62 L425.64,815.04 L423.61,814.46 L421.58,813.87 L419.55,813.29 L417.52,812.71 L415.48,812.14 L413.45,811.56 L411.42,810.98 L409.39,810.40 L407.36,809.83 L405.32,809.25Z" fill="#f1e5f3"/>
<path d="M93.85,706.25 L101.08,707.79 L108.31,709.32 L115.54,710.85 L122.77,712.38 L130.00,713.89 L137.23,715.40 L144.47,716.90 L151.70,718.40 L158.93,719.89 L166.16,721.38 L173.39,722.86 L180.62,724.33 L187.85,725.79 L195.08,727.25 L202.31,728.71 L209.54,730.16 L216.77,731.60 L224.00,733.03 L231.24,734.46 L238.47,735.89 L245.70,737.31 L252.93,738.72 L260.16,740.12 L267.39,741.53 L274.62,742.92 L281.85,744.31 L289.08,745.69 L296.31,747.07 L303.54,748.45 L310.77,749.81 L318.00,751.18 L325.24,752.53 L332.47,753.88 L339.70,755.23 L346.93,756.57 L354.16,757.90 L361.39,759.23 L368.62,760.56 L375.85,761.88 L383.08,763.19 L390.31,764.50 L397.54,765.80 L404.77,767.10 L412.01,768.39 L419.24,769.68 L426.47,770.96 L433.70,772.24 L440.93,773.51 L448.16,774.78 L455.39,776.05 L462.62,777.30 L469.85,778.56 L477.08,779.81 L484.31,781.05 L491.54,782.29 L498.78,783.52 L506.01,784.75 L513.24,785.98 L520.47,787.20 L527.70,788.41 L534.93,789.62 L542.16,790.83 L549.39,792.03 L556.62,793.23 L563.85,794.42 L571.08,795.61 L578.31,796.79 L585.54,797.97 L592.78,799.14 L600.01,800.31 L607.24,801.48 L614.47,802.64 L621.70,803.80 L628.93,804.95 L636.16,806.10 L643.39,807.24 L650.62,808.38 L657.85,809.52 L665.08,810.65 L672.31,811.78 L679.55,812.90 L686.78,814.02 L694.01,815.14 L701.24,816.25 L708.47,817.35 L715.70,818.46 L722.93,819.55 L730.16,820.65 L737.39,821.74 L744.62,822.83 L751.85,823.91 L759.08,824.99 L766.32,826.06 L773.55,827.13 L780.78,828.20 L788.01,829.26 L795.24,830.32 L802.47,831.38 L809.70,832.43" stroke="#cc99cc" stroke-width="1.5" fill="none"/>
<path d="M93.85,716.98 L101.08,719.26 L108.31,721.53 L115.54,723.79 L122.77,726.04 L130.00,728.29 L137.23,730.53 L144.47,732.77 L151.70,735.00 L158.93,737.22 L166.16,739.43 L173.39,741.64 L180.62,743.85 L187.85,746.04 L195.08,748.23 L202.31,750.41 L209.54,752.59 L216.77,754.76 L224.00,756.92 L231.24,759.08 L238.47,761.23 L245.70,763.38 L252.93,765.51 L260.16,767.65 L267.39,769.77 L274.62,771.89 L281.85,774.00 L289.08,776.11 L296.31,778.21 L303.54,780.30 L310.77,782.39 L318.00,784.47 L325.24,786.54 L332.47,788.61 L339.70,790.67 L346.93,792.73 L354.16,794.77 L361.39,796.82 L368.62,798.85 L375.85,800.88 L383.08,802.91 L390.31,804.93 L397.54,806.94 L404.77,808.94 L412.01,810.94 L419.24,812.94 L426.47,814.92 L433.70,816.90 L440.93,818.88 L448.16,820.85 L455.39,822.81 L462.62,824.77 L469.85,826.72 L477.08,828.66 L484.31,830.60 L491.54,832.53 L498.78,834.46 L506.01,836.38 L513.24,838.29 L520.47,840.20 L527.70,842.10 L534.93,844.00 L542.16,845.89 L549.39,847.78 L556.62,849.66 L563.85,851.53 L571.08,853.40 L578.31,855.26 L585.54,857.11 L592.78,858.96 L600.01,860.81 L607.24,862.64 L614.47,864.48 L621.70,866.30 L628.93,868.12 L636.16,869.94 L643.39,871.75 L650.62,873.55 L657.85,875.35 L665.08,877.14 L672.31,878.93 L679.55,880.71 L686.78,882.49 L694.01,884.26 L701.24,886.02 L708.47,887.78 L715.70,889.53 L722.93,891.28 L730.16,893.02 L737.39,894.76 L744.62,896.49 L751.85,898.21 L759.08,899.93 L766.32,901.65 L773.55,903.36 L780.78,905.06 L788.01,906.76 L795.24,908.45 L802.47,910.14 L809.70,911.82" stroke="#cc99cc" stroke-width="1.5" fill="none"/>
<path d="M405.32,767.21 L407.36,767.57 L409.39,767.94 L411.42,768.30 L413.45,768.67 L415.48,769.03 L417.52,769.39 L419.55,769.76 L421.58,770.12 L423.61,770.48 L425.64,770.84 L427.68,771.21 L429.71,771.57 L431.74,771.93 L433.77,772.29 L435.80,772.65 L437.84,773.02 L439.87,773.38 L441.90,773.74 L443.93,774.10 L445.96,774.46 L448.00,774.82 L450.03,775.19 L452.06,775.55 L454.09,775.91 L456.13,776.27 L458.16,776.63 L460.19,777.00 L462.22,777.36 L464.25,777.72 L466.29,778.08 L468.32,778.45 L470.35,778.81 L472.38,779.17 L474.41,779.54 L476.45,779.90 L478.48,780.27 L480.51,780.64 L482.54,781.00 L484.57,781.37 L486.61,781.74 L488.64,782.11 L490.67,782.48 L492.70,782.85 L494.73,783.23 L496.77,783.60 L498.80,783.98 L500.83,784.35 L502.86,784.73 L504.89,785.11 L506.93,785.49 L508.96,785.87 L510.99,786.26 L513.02,786.64 L515.05,787.03 L517.09,787.42 L519.12,787.82 L521.15,788.21 L523.18,788.61 L525.21,789.01 L527.25,789.41 L529.28,789.81 L531.31,790.22 L533.34,790.63 L535.37,791.05 L537.41,791.47 L539.44,791.89 L541.47,792.31 L543.50,792.74 L545.53,793.17 L547.57,793.61 L549.60,794.05 L551.63,794.49 L553.66,794.94 L555.69,795.39 L557.73,795.85 L559.76,796.31 L561.79,796.78 L563.82,797.26 L565.86,797.73 L567.89,798.22 L569.92,798.71 L571.95,799.21 L573.98,799.71 L576.02,800.22 L578.05,800.73 L580.08,801.26 L582.11,801.79 L584.14,802.32 L586.18,802.87 L588.21,803.42 L590.24,803.98 L592.27,804.55 L594.30,805.12 L596.34,805.71 L598.37,806.30 L600.40,806.90 L602.43,807.52 L604.46,808.14 L606.50,808.77 L608.53,809.41 L610.56,810.06 L612.59,810.72 L614.62,811.39 L616.66,812.07 L618.69,812.77 L620.72,813.47 L622.75,814.19 L624.78,814.91 L626.82,815.65 L628.85,816.40 L630.88,817.17 L632.91,817.95 L634.94,818.73 L636.98,819.54 L639.01,820.35 L641.04,821.18 L643.07,822.03 L645.10,822.88 L647.14,823.76 L649.17,824.64 L651.20,825.54 L653.23,826.46 L655.26,827.39 L657.30,828.34 L659.33,829.30 L661.36,830.28 L663.39,831.27 L665.43,832.29 L667.46,833.31 L669.49,834.36 L671.52,835.42 L673.55,836.50 L675.59,837.59 L677.62,838.71 L679.65,839.84 L681.68,840.99 L683.71,842.16 L685.75,843.34 L687.78,844.55 L689.81,845.77 L691.84,847.01 L693.87,848.27 L695.91,849.55 L697.94,850.85 L699.97,852.17 L702.00,853.51 L704.03,854.87 L706.07,856.25 L708.10,857.65 L710.13,859.07 L712.16,860.51 L714.19,861.97 L716.23,863.46 L718.26,864.96 L720.29,866.48 L722.32,868.03 L724.35,869.60 L726.39,871.18 L728.42,872.79 L730.45,874.42 L732.48,876.08 L734.51,877.75 L736.55,879.45 L738.58,881.16 L740.61,882.90 L742.64,884.67 L744.67,886.45 L746.71,888.26 L748.74,890.08 L750.77,891.93 L752.80,893.81 L754.83,895.70 L756.87,897.62 L758.90,899.55 L760.93,901.52 L762.96,903.50 L765.00,905.50 L767.03,907.53 L769.06,909.58 L771.09,911.65 L773.12,913.75 L775.16,915.86 L777.19,918.00 L779.22,920.16 L781.25,922.34 L783.28,924.55 L785.32,926.77 L787.35,929.02 L789.38,931.29 L791.41,933.58 L793.44,935.89 L795.48,938.22 L797.51,940.58 L799.54,942.95 L801.57,945.35 L803.60,947.77 L805.64,950.20 L807.67,952.66 L809.70,955.14" stroke="#cc99cc" stroke-width="1.5" fill="none" stroke-dasharray="7.6 3.9"/>
<path d="M405.32,809.20 L407.36,809.77 L409.39,810.33 L411.42,810.90 L413.45,811.47 L415.48,812.04 L417.52,812.60 L419.55,813.17 L421.58,813.74 L423.61,814.30 L425.64,814.87 L427.68,815.44 L429.71,816.00 L431.74,816.57 L433.77,817.13 L435.80,817.70 L437.84,818.27 L439.87,818.83 L441.90,819.40 L443.93,819.97 L445.96,820.53 L448.00,821.10 L450.03,821.67 L452.06,822.23 L454.09,822.80 L456.13,823.37 L458.16,823.94 L460.19,824.50 L462.22,825.07 L464.25,825.64 L466.29,826.21 L468.32,826.78 L470.35,827.35 L472.38,827.92 L474.41,828.49 L476.45,829.06 L478.48,829.63 L480.51,830.20 L482.54,830.78 L484.57,831.35 L486.61,831.92 L488.64,832.50 L490.67,833.08 L492.70,833.65 L494.73,834.23 L496.77,834.81 L498.80,835.39 L500.83,835.97 L502.86,836.55 L504.89,837.13 L506.93,837.72 L508.96,838.30 L510.99,838.89 L513.02,839.48 L515.05,840.07 L517.09,840.66 L519.12,841.25 L521.15,841.85 L523.18,842.44 L525.21,843.04 L527.25,843.64 L529.28,844.24 L531.31,844.85 L533.34,845.45 L535.37,846.06 L537.41,846.67 L539.44,847.28 L541.47,847.90 L543.50,848.52 L545.53,849.14 L547.57,849.76 L549.60,850.38 L551.63,851.01 L553.66,851.64 L555.69,852.28 L557.73,852.92 L559.76,853.56 L561.79,854.20 L563.82,854.85 L565.86,855.50 L567.89,856.16 L569.92,856.82 L571.95,857.48 L573.98,858.15 L576.02,858.82 L578.05,859.50 L580.08,860.18 L582.11,860.87 L584.14,861.56 L586.18,862.25 L588.21,862.95 L590.24,863.66 L592.27,864.37 L594.30,865.09 L596.34,865.81 L598.37,866.54 L600.40,867.28 L602.43,868.02 L604.46,868.77 L606.50,869.52 L608.53,870.29 L610.56,871.05 L612.59,871.83 L614.62,872.61 L616.66,873.41 L618.69,874.21 L620.72,875.01 L622.75,875.83 L624.78,876.65 L626.82,877.49 L628.85,878.33 L630.88,879.18 L632.91,880.04 L634.94,880.91 L636.98,881.80 L639.01,882.69 L641.04,883.59 L643.07,884.50 L645.10,885.43 L647.14,886.36 L649.17,887.31 L651.20,888.27 L653.23,889.24 L655.26,890.22 L657.30,891.22 L659.33,892.23 L661.36,893.25 L663.39,894.29 L665.43,895.34 L667.46,896.41 L669.49,897.49 L671.52,898.58 L673.55,899.69 L675.59,900.82 L677.62,901.96 L679.65,903.12 L681.68,904.30 L683.71,905.50 L685.75,906.71 L687.78,907.94 L689.81,909.19 L691.84,910.46 L693.87,911.75 L695.91,913.06 L697.94,914.38 L699.97,915.73 L702.00,917.11 L704.03,918.50 L706.07,919.91 L708.10,921.35 L710.13,922.81 L712.16,924.30 L714.19,925.81 L716.23,927.34 L718.26,928.90 L720.29,930.48 L722.32,932.09 L724.35,933.73 L726.39,935.40 L728.42,937.09 L730.45,938.81 L732.48,940.56 L734.51,942.34 L736.55,944.16 L738.58,946.00 L740.61,947.87 L742.64,949.78 L744.67,951.72 L746.71,953.69 L748.74,955.70 L750.77,957.74 L752.80,959.82 L754.83,961.93 L756.87,964.08 L758.90,966.27 L760.93,968.50 L762.96,970.76 L765.00,973.07 L767.03,975.42 L769.06,977.80 L771.09,980.23 L773.12,982.71 L775.16,985.22 L777.19,987.79 L779.22,990.39 L781.25,993.05 L783.28,995.75 L785.32,998.50 L787.35,1001.29 L789.38,1004.14 L791.41,1007.04 L793.44,1009.99 L795.48,1012.99 L797.51,1016.04 L799.54,1019.15 L801.57,1022.32 L803.60,1025.54 L805.64,1028.82 L807.67,1032.15 L809.70,1035.55" stroke="#cc99cc" stroke-width="1.5" fill="none" stroke-dasharray="7.6 3.9"/>
<path d="M405.32,767.30 L407.36,767.67 L409.39,768.04 L411.42,768.41 L413.45,768.78 L415.48,769.16 L417.52,769.53 L419.55,769.90 L421.58,770.28 L423.61,770.65 L425.64,771.03 L427.68,771.40 L429.71,771.78 L431.74,772.16 L433.77,772.54 L435.80,772.91 L437.84,773.29 L439.87,773.67 L441.90,774.06 L443.93,774.44 L445.96,774.82 L448.00,775.21 L450.03,775.59 L452.06,775.98 L454.09,776.37 L456.13,776.76 L458.16,777.16 L460.19,777.55 L462.22,777.95 L464.25,778.35 L466.29,778.75 L468.32,779.15 L470.35,779.56 L472.38,779.97 L474.41,780.38 L476.45,780.80 L478.48,781.21 L480.51,781.63 L482.54,782.06 L484.57,782.49 L486.61,782.92 L488.64,783.35 L490.67,783.79 L492.70,784.24 L494.73,784.68 L496.77,785.13 L498.80,785.59 L500.83,786.05 L502.86,786.52 L504.89,786.99 L506.93,787.47 L508.96,787.95 L510.99,788.44 L513.02,788.94 L515.05,789.44 L517.09,789.95 L519.12,790.47 L521.15,790.99 L523.18,791.52 L525.21,792.06 L527.25,792.61 L529.28,793.17 L531.31,793.73 L533.34,794.30 L535.37,794.89 L537.41,795.48 L539.44,796.08 L541.47,796.69 L543.50,797.32 L545.53,797.95 L547.57,798.60 L549.60,799.25 L551.63,799.92 L553.66,800.60 L555.69,801.30 L557.73,802.00 L559.76,802.72 L561.79,803.46 L563.82,804.21 L565.86,804.97 L567.89,805.75 L569.92,806.54 L571.95,807.35 L573.98,808.18 L576.02,809.02 L578.05,809.88 L580.08,810.76 L582.11,811.66 L584.14,812.57 L586.18,813.51 L588.21,814.46 L590.24,815.43 L592.27,816.43 L594.30,817.44 L596.34,818.48 L598.37,819.54 L600.40,820.62 L602.43,821.72 L604.46,822.85 L606.50,824.00 L608.53,825.18 L610.56,826.38 L612.59,827.61 L614.62,828.86 L616.66,830.14 L618.69,831.45 L620.72,832.79 L622.75,834.15 L624.78,835.55 L626.82,836.97 L628.85,838.42 L630.88,839.91 L632.91,841.42 L634.94,842.97 L636.98,844.55 L639.01,846.16 L641.04,847.81 L643.07,849.49 L645.10,851.21 L647.14,852.96 L649.17,854.75 L651.20,856.58 L653.23,858.44 L655.26,860.34 L657.30,862.28 L659.33,864.26 L661.36,866.28 L663.39,868.34 L665.43,870.44 L667.46,872.58 L669.49,874.77 L671.52,877.00 L673.55,879.27 L675.59,881.59 L677.62,883.95 L679.65,886.35 L681.68,888.81 L683.71,891.31 L685.75,893.86 L687.78,896.45 L689.81,899.10 L691.84,901.79 L693.87,904.54 L695.91,907.33 L697.94,910.18 L699.97,913.08 L702.00,916.03 L704.03,919.04 L706.07,922.10 L708.10,925.21 L710.13,928.38 L712.16,931.60 L714.19,934.88 L716.23,938.22 L718.26,941.61 L720.29,945.07 L722.32,948.58 L724.35,952.15 L726.39,955.78 L728.42,959.47 L730.45,963.23 L732.48,967.04 L734.51,970.92 L736.55,974.86 L738.58,978.86 L740.61,982.93 L742.64,987.06 L744.67,991.26 L746.71,995.52 L748.74,999.85 L750.77,1004.24 L752.80,1008.71 L754.83,1013.24 L756.87,1017.84 L758.90,1022.50 L760.93,1027.24 L762.96,1032.05 L765.00,1036.92 L767.03,1041.87 L769.06,1046.89 L771.09,1051.98 L773.12,1057.15 L775.16,1062.38 L777.19,1067.69 L779.22,1073.08 L781.25,1078.53 L783.28,1084.07 L785.32,1089.67 L787.35,1095.35 L789.38,1101.11 L791.41,1106.95 L793.44,1112.86 L795.48,1118.84 L797.51,1124.91 L799.54,1131.05 L801.57,1137.27 L803.60,1143.57 L805.64,1149.95 L807.67,1156.41 L809.70,1162.94" stroke="#cc99cc" stroke-width="1.5" fill="none" stroke-dasharray="8 3.6 1.6 3.6"/>
<path d="M405.32,809.25 L407.36,809.83 L409.39,810.40 L411.42,810.98 L413.45,811.56 L415.48,812.14 L417.52,812.71 L419.55,813.29 L421.58,813.87 L423.61,814.46 L425.64,815.04 L427.68,815.62 L429.71,816.21 L431.74,816.79 L433.77,817.38 L435.80,817.97 L437.84,818.56 L439.87,819.15 L441.90,819.75 L443.93,820.34 L445.96,820.94 L448.00,821.54 L450.03,822.14 L452.06,822.75 L454.09,823.36 L456.13,823.97 L458.16,824.58 L460.19,825.20 L462.22,825.82 L464.25,826.44 L466.29,827.06 L468.32,827.69 L470.35,828.33 L472.38,828.97 L474.41,829.61 L476.45,830.25 L478.48,830.90 L480.51,831.56 L482.54,832.22 L484.57,832.89 L486.61,833.56 L488.64,834.23 L490.67,834.92 L492.70,835.60 L494.73,836.30 L496.77,837.00 L498.80,837.71 L500.83,838.42 L502.86,839.14 L504.89,839.87 L506.93,840.61 L508.96,841.36 L510.99,842.11 L513.02,842.87 L515.05,843.64 L517.09,844.42 L519.12,845.21 L521.15,846.01 L523.18,846.82 L525.21,847.63 L527.25,848.46 L529.28,849.30 L531.31,850.15 L533.34,851.01 L535.37,851.89 L537.41,852.77 L539.44,853.67 L541.47,854.58 L543.50,855.50 L545.53,856.44 L547.57,857.38 L549.60,858.35 L551.63,859.32 L553.66,860.32 L555.69,861.32 L557.73,862.34 L559.76,863.38 L561.79,864.43 L563.82,865.50 L565.86,866.58 L567.89,867.68 L569.92,868.80 L571.95,869.93 L573.98,871.09 L576.02,872.26 L578.05,873.45 L580.08,874.65 L582.11,875.88 L584.14,877.12 L586.18,878.39 L588.21,879.67 L590.24,880.98 L592.27,882.30 L594.30,883.64 L596.34,885.01 L598.37,886.40 L600.40,887.81 L602.43,889.24 L604.46,890.69 L606.50,892.16 L608.53,893.66 L610.56,895.18 L612.59,896.73 L614.62,898.29 L616.66,899.88 L618.69,901.50 L620.72,903.14 L622.75,904.80 L624.78,906.49 L626.82,908.20 L628.85,909.94 L630.88,911.70 L632.91,913.49 L634.94,915.31 L636.98,917.15 L639.01,919.02 L641.04,920.91 L643.07,922.83 L645.10,924.78 L647.14,926.75 L649.17,928.75 L651.20,930.78 L653.23,932.84 L655.26,934.92 L657.30,937.03 L659.33,939.17 L661.36,941.33 L663.39,943.53 L665.43,945.75 L667.46,948.00 L669.49,950.28 L671.52,952.59 L673.55,954.92 L675.59,957.29 L677.62,959.68 L679.65,962.10 L681.68,964.55 L683.71,967.03 L685.75,969.54 L687.78,972.07 L689.81,974.64 L691.84,977.23 L693.87,979.85 L695.91,982.50 L697.94,985.18 L699.97,987.89 L702.00,990.62 L704.03,993.39 L706.07,996.18 L708.10,999.00 L710.13,1001.85 L712.16,1004.73 L714.19,1007.64 L716.23,1010.57 L718.26,1013.53 L720.29,1016.52 L722.32,1019.54 L724.35,1022.59 L726.39,1025.66 L728.42,1028.76 L730.45,1031.88 L732.48,1035.04 L734.51,1038.22 L736.55,1041.42 L738.58,1044.66 L740.61,1047.92 L742.64,1051.20 L744.67,1054.51 L746.71,1057.85 L748.74,1061.21 L750.77,1064.59 L752.80,1068.01 L754.83,1071.44 L756.87,1074.90 L758.90,1078.39 L760.93,1081.89 L762.96,1085.43 L765.00,1088.98 L767.03,1092.56 L769.06,1096.16 L771.09,1099.78 L773.12,1103.43 L775.16,1107.09 L777.19,1110.78 L779.22,1114.49 L781.25,1118.22 L783.28,1121.97 L785.32,1125.74 L787.35,1129.53 L789.38,1133.34 L791.41,1137.17 L793.44,1141.02 L795.48,1144.88 L797.51,1148.77 L799.54,1152.67 L801.57,1156.59 L803.60,1160.53 L805.64,1164.48 L807.67,1168.45 L809.70,1172.43" stroke="#cc99cc" stroke-width="1.5" fill="none" stroke-dasharray="8 3.6 1.6 3.6"/>
<path d="M405.32,788.36 L407.36,788.83 L409.39,789.30 L411.42,789.77 L413.45,790.23 L415.48,790.70 L417.52,791.17 L419.55,791.64 L421.58,792.10 L423.61,792.57 L425.64,793.04 L427.68,793.51 L429.71,793.97 L431.74,794.44 L433.77,794.91 L435.80,795.37 L437.84,795.84 L439.87,796.31 L441.90,796.77 L443.93,797.24 L445.96,797.71 L448.00,798.17 L450.03,798.64 L452.06,799.11 L454.09,799.58 L456.13,800.04 L458.16,800.51 L460.19,800.98 L462.22,801.45 L464.25,801.92 L466.29,802.39 L468.32,802.86 L470.35,803.33 L472.38,803.80 L474.41,804.27 L476.45,804.74 L478.48,805.21 L480.51,805.69 L482.54,806.16 L484.57,806.63 L486.61,807.11 L488.64,807.58 L490.67,808.06 L492.70,808.54 L494.73,809.02 L496.77,809.50 L498.80,809.98 L500.83,810.46 L502.86,810.94 L504.89,811.43 L506.93,811.91 L508.96,812.40 L510.99,812.89 L513.02,813.38 L515.05,813.87 L517.09,814.36 L519.12,814.85 L521.15,815.35 L523.18,815.85 L525.21,816.35 L527.25,816.85 L529.28,817.35 L531.31,817.86 L533.34,818.37 L535.37,818.88 L537.41,819.39 L539.44,819.91 L541.47,820.43 L543.50,820.95 L545.53,821.47 L547.57,822.00 L549.60,822.53 L551.63,823.06 L553.66,823.60 L555.69,824.14 L557.73,824.68 L559.76,825.23 L561.79,825.78 L563.82,826.34 L565.86,826.90 L567.89,827.46 L569.92,828.03 L571.95,828.60 L573.98,829.18 L576.02,829.76 L578.05,830.35 L580.08,830.94 L582.11,831.54 L584.14,832.14 L586.18,832.75 L588.21,833.36 L590.24,833.98 L592.27,834.61 L594.30,835.24 L596.34,835.88 L598.37,836.53 L600.40,837.18 L602.43,837.84 L604.46,838.51 L606.50,839.18 L608.53,839.87 L610.56,840.56 L612.59,841.26 L614.62,841.97 L616.66,842.68 L618.69,843.41 L620.72,844.14 L622.75,844.89 L624.78,845.64 L626.82,846.41 L628.85,847.18 L630.88,847.97 L632.91,848.76 L634.94,849.57 L636.98,850.39 L639.01,851.22 L641.04,852.06 L643.07,852.91 L645.10,853.78 L647.14,854.66 L649.17,855.55 L651.20,856.46 L653.23,857.38 L655.26,858.31 L657.30,859.26 L659.33,860.22 L661.36,861.20 L663.39,862.19 L665.43,863.20 L667.46,864.22 L669.49,865.27 L671.52,866.32 L673.55,867.40 L675.59,868.49 L677.62,869.60 L679.65,870.73 L681.68,871.88 L683.71,873.04 L685.75,874.23 L687.78,875.43 L689.81,876.66 L691.84,877.90 L693.87,879.17 L695.91,880.45 L697.94,881.76 L699.97,883.09 L702.00,884.44 L704.03,885.82 L706.07,887.22 L708.10,888.64 L710.13,890.08 L712.16,891.55 L714.19,893.04 L716.23,894.56 L718.26,896.10 L720.29,897.67 L722.32,899.27 L724.35,900.89 L726.39,902.53 L728.42,904.21 L730.45,905.91 L732.48,907.64 L734.51,909.39 L736.55,911.18 L738.58,912.99 L740.61,914.83 L742.64,916.70 L744.67,918.60 L746.71,920.53 L748.74,922.49 L750.77,924.48 L752.80,926.51 L754.83,928.56 L756.87,930.64 L758.90,932.75 L760.93,934.90 L762.96,937.07 L765.00,939.28 L767.03,941.52 L769.06,943.79 L771.09,946.10 L773.12,948.43 L775.16,950.80 L777.19,953.20 L779.22,955.63 L781.25,958.10 L783.28,960.60 L785.32,963.13 L787.35,965.69 L789.38,968.29 L791.41,970.92 L793.44,973.58 L795.48,976.28 L797.51,979.00 L799.54,981.76 L801.57,984.55 L803.60,987.38 L805.64,990.23 L807.67,993.12 L809.70,996.04" stroke="#800080" stroke-width="2" fill="none" stroke-dasharray="8.8 4.6"/>
<path d="M405.32,788.53 L407.36,789.01 L409.39,789.49 L411.42,789.97 L413.45,790.45 L415.48,790.93 L417.52,791.41 L419.55,791.89 L421.58,792.37 L423.61,792.86 L425.64,793.34 L427.68,793.82 L429.71,794.31 L431.74,794.79 L433.77,795.28 L435.80,795.77 L437.84,796.26 L439.87,796.74 L441.90,797.24 L443.93,797.73 L445.96,798.22 L448.00,798.72 L450.03,799.21 L452.06,799.71 L454.09,800.21 L456.13,800.71 L458.16,801.21 L460.19,801.72 L462.22,802.22 L464.25,802.73 L466.29,803.24 L468.32,803.76 L470.35,804.27 L472.38,804.79 L474.41,805.31 L476.45,805.84 L478.48,806.36 L480.51,806.89 L482.54,807.43 L484.57,807.96 L486.61,808.50 L488.64,809.05 L490.67,809.59 L492.70,810.14 L494.73,810.70 L496.77,811.26 L498.80,811.82 L500.83,812.39 L502.86,812.96 L504.89,813.54 L506.93,814.13 L508.96,814.71 L510.99,815.31 L513.02,815.91 L515.05,816.52 L517.09,817.13 L519.12,817.75 L521.15,818.37 L523.18,819.01 L525.21,819.65 L527.25,820.30 L529.28,820.95 L531.31,821.61 L533.34,822.29 L535.37,822.97 L537.41,823.66 L539.44,824.36 L541.47,825.06 L543.50,825.78 L545.53,826.51 L547.57,827.25 L549.60,828.00 L551.63,828.76 L553.66,829.54 L555.69,830.32 L557.73,831.12 L559.76,831.93 L561.79,832.75 L563.82,833.59 L565.86,834.44 L567.89,835.30 L569.92,836.18 L571.95,837.08 L573.98,837.99 L576.02,838.91 L578.05,839.86 L580.08,840.82 L582.11,841.80 L584.14,842.79 L586.18,843.81 L588.21,844.84 L590.24,845.89 L592.27,846.97 L594.30,848.06 L596.34,849.18 L598.37,850.31 L600.40,851.47 L602.43,852.65 L604.46,853.86 L606.50,855.09 L608.53,856.34 L610.56,857.62 L612.59,858.92 L614.62,860.25 L616.66,861.61 L618.69,862.99 L620.72,864.40 L622.75,865.84 L624.78,867.31 L626.82,868.81 L628.85,870.34 L630.88,871.90 L632.91,873.50 L634.94,875.12 L636.98,876.78 L639.01,878.47 L641.04,880.20 L643.07,881.96 L645.10,883.75 L647.14,885.58 L649.17,887.45 L651.20,889.35 L653.23,891.29 L655.26,893.27 L657.30,895.29 L659.33,897.35 L661.36,899.45 L663.39,901.58 L665.43,903.76 L667.46,905.98 L669.49,908.24 L671.52,910.55 L673.55,912.89 L675.59,915.28 L677.62,917.72 L679.65,920.19 L681.68,922.71 L683.71,925.28 L685.75,927.89 L687.78,930.54 L689.81,933.24 L691.84,935.99 L693.87,938.78 L695.91,941.62 L697.94,944.50 L699.97,947.43 L702.00,950.41 L704.03,953.43 L706.07,956.50 L708.10,959.62 L710.13,962.78 L712.16,965.99 L714.19,969.24 L716.23,972.54 L718.26,975.89 L720.29,979.28 L722.32,982.72 L724.35,986.20 L726.39,989.72 L728.42,993.29 L730.45,996.91 L732.48,1000.56 L734.51,1004.26 L736.55,1008.00 L738.58,1011.78 L740.61,1015.60 L742.64,1019.47 L744.67,1023.37 L746.71,1027.31 L748.74,1031.28 L750.77,1035.29 L752.80,1039.34 L754.83,1043.43 L756.87,1047.54 L758.90,1051.69 L760.93,1055.87 L762.96,1060.08 L765.00,1064.32 L767.03,1068.59 L769.06,1072.89 L771.09,1077.21 L773.12,1081.55 L775.16,1085.92 L777.19,1090.31 L779.22,1094.72 L781.25,1099.15 L783.28,1103.60 L785.32,1108.07 L787.35,1112.54 L789.38,1117.04 L791.41,1121.54 L793.44,1126.06 L795.48,1130.58 L797.51,1135.11 L799.54,1139.65 L801.57,1144.19 L803.60,1148.74 L805.64,1153.29 L807.67,1157.83 L809.70,1162.38" stroke="#800080" stroke-width="2" fill="none" stroke-dasharray="9 3.8 1.8 3.8"/>
<path d="M93.85,711.35 L101.08,713.27 L108.31,715.19 L115.54,717.10 L122.77,719.01 L130.00,720.91 L137.23,722.80 L144.47,724.68 L151.70,726.56 L158.93,728.43 L166.16,730.29 L173.39,732.15 L180.62,734.00 L187.85,735.84 L195.08,737.67 L202.31,739.50 L209.54,741.33 L216.77,743.14 L224.00,744.95 L231.24,746.76 L238.47,748.55 L245.70,750.34 L252.93,752.13 L260.16,753.90 L267.39,755.68 L274.62,757.44 L281.85,759.20 L289.08,760.95 L296.31,762.70 L303.54,764.44 L310.77,766.17 L318.00,767.90 L325.24,769.62 L332.47,771.34 L339.70,773.04 L346.93,774.75 L354.16,776.45 L361.39,778.14 L368.62,779.82 L375.85,781.50 L383.08,783.18 L390.31,784.84 L397.54,786.50 L404.77,788.16 L412.01,789.81 L419.24,791.46 L426.47,793.10 L433.70,794.73 L440.93,796.36 L448.16,797.98 L455.39,799.60 L462.62,801.21 L469.85,802.81 L477.08,804.41 L484.31,806.01 L491.54,807.60 L498.78,809.18 L506.01,810.76 L513.24,812.33 L520.47,813.90 L527.70,815.46 L534.93,817.02 L542.16,818.57 L549.39,820.11 L556.62,821.66 L563.85,823.19 L571.08,824.72 L578.31,826.25 L585.54,827.77 L592.78,829.28 L600.01,830.79 L607.24,832.30 L614.47,833.80 L621.70,835.30 L628.93,836.79 L636.16,838.27 L643.39,839.75 L650.62,841.23 L657.85,842.70 L665.08,844.16 L672.31,845.62 L679.55,847.08 L686.78,848.53 L694.01,849.98 L701.24,851.42 L708.47,852.86 L715.70,854.29 L722.93,855.72 L730.16,857.14 L737.39,858.56 L744.62,859.97 L751.85,861.38 L759.08,862.79 L766.32,864.19 L773.55,865.58 L780.78,866.97 L788.01,868.36 L795.24,869.74 L802.47,871.12 L809.70,872.49" stroke="#800080" stroke-width="2" fill="none"/>
<path d="M112.40,672.12V714.01M108.90,672.12H115.90M108.90,714.01H115.90" stroke="#800080" stroke-width="2.3" fill="none"/>
<circle cx="111.60" cy="697.26" r="5.3" fill="none" stroke="#800080" stroke-width="1"/>
<path d="M286.70,775.06V811.69M283.20,775.06H290.20M283.20,811.69H290.20" stroke="#800080" stroke-width="2.3" fill="none"/>
<circle cx="285.90" cy="793.26" r="5.3" fill="none" stroke="#800080" stroke-width="1"/>
<path d="M417.43,640.04V736.04M413.93,640.04H420.93M413.93,736.04H420.93" stroke="#800080" stroke-width="2.3" fill="none"/>
<circle cx="416.63" cy="688.52" r="5.3" fill="none" stroke="#800080" stroke-width="1"/>
<path d="M461.00,719.04V771.47M457.50,719.04H464.50M457.50,771.47H464.50" stroke="#800080" stroke-width="2.3" fill="none"/>
<circle cx="460.20" cy="745.50" r="5.3" fill="none" stroke="#800080" stroke-width="1"/>
<path d="M548.15,771.95V838.02M544.65,771.95H551.65M544.65,838.02H551.65" stroke="#800080" stroke-width="2.3" fill="none"/>
<circle cx="547.35" cy="804.99" r="5.3" fill="none" stroke="#800080" stroke-width="1"/>
<path d="M591.73,730.53V792.54M588.23,730.53H595.23M588.23,792.54H595.23" stroke="#800080" stroke-width="2.3" fill="none"/>
<circle cx="590.93" cy="761.54" r="5.3" fill="none" stroke="#800080" stroke-width="1"/>
<path d="M635.30,719.52V807.98M631.80,719.52H638.80M631.80,807.98H638.80" stroke="#800080" stroke-width="2.3" fill="none"/>
<circle cx="634.50" cy="763.45" r="5.3" fill="none" stroke="#800080" stroke-width="1"/>
<path d="M678.88,925.52V1005.25M675.38,925.52H682.38M675.38,1005.25H682.38" stroke="#800080" stroke-width="2.3" fill="none"/>
<circle cx="678.08" cy="965.38" r="5.3" fill="none" stroke="#800080" stroke-width="1"/>
<path d="M722.45,854.06V925.64M718.95,854.06H725.95M718.95,925.64H725.95" stroke="#800080" stroke-width="2.3" fill="none"/>
<circle cx="721.65" cy="889.38" r="5.3" fill="none" stroke="#800080" stroke-width="1"/>
<path d="M766.02,832.64V951.38M762.52,832.64H769.52M762.52,951.38H769.52" stroke="#800080" stroke-width="2.3" fill="none"/>
<circle cx="765.23" cy="891.89" r="5.3" fill="none" stroke="#800080" stroke-width="1"/>
<path d="M112.40,680.98V696.06M108.90,680.98H115.90M108.90,696.06H115.90" stroke="#800080" stroke-width="2.3" fill="none"/>
<path d="M100.66,620.44H108.66L104.66,627.64Z" fill="none" stroke="#800080" stroke-width="1"/>
<path d="M107.20,684.09L111.60,680.29L116.00,684.09L111.60,687.89Z" fill="none" stroke="#800080" stroke-width="1"/>
</g>
<path d="M80.5,581.2H824.5V1041.2H80.5Z M80.5,1031.22h3.2M824.5,1031.22h-3.2 M80.5,1019.25h5.6M824.5,1019.25h-5.6 M80.5,1007.28h3.2M824.5,1007.28h-3.2 M80.5,995.31h3.2M824.5,995.31h-3.2 M80.5,983.34h3.2M824.5,983.34h-3.2 M80.5,971.37h3.2M824.5,971.37h-3.2 M80.5,959.40h5.6M824.5,959.40h-5.6 M80.5,947.43h3.2M824.5,947.43h-3.2 M80.5,935.46h3.2M824.5,935.46h-3.2 M80.5,923.49h3.2M824.5,923.49h-3.2 M80.5,911.52h3.2M824.5,911.52h-3.2 M80.5,899.55h5.6M824.5,899.55h-5.6 M80.5,887.58h3.2M824.5,887.58h-3.2 M80.5,875.61h3.2M824.5,875.61h-3.2 M80.5,863.64h3.2M824.5,863.64h-3.2 M80.5,851.67h3.2M824.5,851.67h-3.2 M80.5,839.70h5.6M824.5,839.70h-5.6 M80.5,827.73h3.2M824.5,827.73h-3.2 M80.5,815.76h3.2M824.5,815.76h-3.2 M80.5,803.79h3.2M824.5,803.79h-3.2 M80.5,791.82h3.2M824.5,791.82h-3.2 M80.5,779.85h5.6M824.5,779.85h-5.6 M80.5,767.88h3.2M824.5,767.88h-3.2 M80.5,755.91h3.2M824.5,755.91h-3.2 M80.5,743.94h3.2M824.5,743.94h-3.2 M80.5,731.97h3.2M824.5,731.97h-3.2 M80.5,720.00h5.6M824.5,720.00h-5.6 M80.5,708.03h3.2M824.5,708.03h-3.2 M80.5,696.06h3.2M824.5,696.06h-3.2 M80.5,684.09h3.2M824.5,684.09h-3.2 M80.5,672.12h3.2M824.5,672.12h-3.2 M80.5,660.15h5.6M824.5,660.15h-5.6 M80.5,648.18h3.2M824.5,648.18h-3.2 M80.5,636.21h3.2M824.5,636.21h-3.2 M80.5,624.24h3.2M824.5,624.24h-3.2 M80.5,612.27h3.2M824.5,612.27h-3.2 M80.5,600.30h5.6M824.5,600.30h-5.6 M80.5,588.33h3.2M824.5,588.33h-3.2 M112.50,1041.2v-5.6M112.50,581.2v5.6 M147.36,1041.2v-3.2M147.36,581.2v3.2 M182.22,1041.2v-3.2M182.22,581.2v3.2 M217.08,1041.2v-3.2M217.08,581.2v3.2 M251.94,1041.2v-3.2M251.94,581.2v3.2 M286.80,1041.2v-5.6M286.80,581.2v5.6 M321.66,1041.2v-3.2M321.66,581.2v3.2 M356.52,1041.2v-3.2M356.52,581.2v3.2 M391.38,1041.2v-3.2M391.38,581.2v3.2 M426.24,1041.2v-3.2M426.24,581.2v3.2 M461.10,1041.2v-5.6M461.10,581.2v5.6 M495.96,1041.2v-3.2M495.96,581.2v3.2 M530.82,1041.2v-3.2M530.82,581.2v3.2 M565.68,1041.2v-3.2M565.68,581.2v3.2 M600.54,1041.2v-3.2M600.54,581.2v3.2 M635.40,1041.2v-5.6M635.40,581.2v5.6 M670.26,1041.2v-3.2M670.26,581.2v3.2 M705.12,1041.2v-3.2M705.12,581.2v3.2 M739.98,1041.2v-3.2M739.98,581.2v3.2 M774.84,1041.2v-3.2M774.84,581.2v3.2 M809.70,1041.2v-5.6M809.70,581.2v5.6" stroke="#8a8a8a" stroke-width="0.8" fill="none"/>
<text transform="translate(2.20,600.90) scale(0.96,1)" font-size="28.4" font-family="Liberation Serif, serif" text-anchor="start" fill="#000">(b)</text>
<text transform="translate(74.60,608.60) scale(0.97,1)" font-size="28.4" font-family="Liberation Serif, serif" text-anchor="end" fill="#000" >8.0</text>
<text transform="translate(74.60,668.45) scale(0.97,1)" font-size="28.4" font-family="Liberation Serif, serif" text-anchor="end" fill="#000" >7.5</text>
<text transform="translate(74.60,728.30) scale(0.97,1)" font-size="28.4" font-family="Liberation Serif, serif" text-anchor="end" fill="#000" >7.0</text>
<text transform="translate(74.60,788.15) scale(0.97,1)" font-size="28.4" font-family="Liberation Serif, serif" text-anchor="end" fill="#000" >6.5</text>
<text transform="translate(74.60,848.00) scale(0.97,1)" font-size="28.4" font-family="Liberation Serif, serif" text-anchor="end" fill="#000" >6.0</text>
<text transform="translate(74.60,907.85) scale(0.97,1)" font-size="28.4" font-family="Liberation Serif, serif" text-anchor="end" fill="#000" >5.5</text>
<text transform="translate(74.60,967.70) scale(0.97,1)" font-size="28.4" font-family="Liberation Serif, serif" text-anchor="end" fill="#000" >5.0</text>
<text transform="translate(74.60,1027.55) scale(0.97,1)" font-size="28.4" font-family="Liberation Serif, serif" text-anchor="end" fill="#000" >4.5</text>
<text transform="translate(111.70,1070.00) scale(0.97,1)" font-size="28.4" font-family="Liberation Serif, serif" text-anchor="middle" fill="#000" >300</text>
<text transform="translate(286.00,1070.00) scale(0.97,1)" font-size="28.4" font-family="Liberation Serif, serif" text-anchor="middle" fill="#000" >400</text>
<text transform="translate(460.30,1070.00) scale(0.97,1)" font-size="28.4" font-family="Liberation Serif, serif" text-anchor="middle" fill="#000" >500</text>
<text transform="translate(634.60,1070.00) scale(0.97,1)" font-size="28.4" font-family="Liberation Serif, serif" text-anchor="middle" fill="#000" >600</text>
<text transform="translate(808.90,1070.00) scale(0.97,1)" font-size="28.4" font-family="Liberation Serif, serif" text-anchor="middle" fill="#000" >700</text>
<text transform="translate(451.30,1110.60) scale(0.98,1)" font-size="28.4" font-family="Liberation Serif, serif" text-anchor="middle" fill="#000">Temperature (K)</text>
<text transform="translate(24.1,811.0) rotate(-90) scale(0.985,1)" font-size="28.4" font-family="Liberation Serif, serif" text-anchor="middle" fill="#000" xml:space="preserve">Lifetime  (ns)</text>
<path d="M124.9,916.5H165.1" stroke="#800080" stroke-width="1.3"/>
<text y="922.70" font-size="28.4" font-family="Liberation Serif, serif" fill="#800080"><tspan x="180.6">ϵ</tspan><tspan x="199.8" dy="3.2">=</tspan><tspan x="223.6" dy="-3.2">0.0</tspan></text>
<path d="M124.9,954.6H165.1" stroke="#800080" stroke-width="1.3" stroke-dasharray="7.4 3"/>
<text y="960.80" font-size="28.4" font-family="Liberation Serif, serif" fill="#800080"><tspan x="180.6">ϵ</tspan><tspan x="199.8" dy="3.2">=</tspan><tspan x="223.6" dy="-3.2">0.3</tspan></text>
<path d="M124.9,992.4H165.1" stroke="#800080" stroke-width="1.3" stroke-dasharray="1.5 3 7.4 3"/>
<text y="998.60" font-size="28.4" font-family="Liberation Serif, serif" fill="#800080"><tspan x="180.6">ϵ</tspan><tspan x="199.8" dy="3.2">=</tspan><tspan x="223.6" dy="-3.2">1.0</tspan></text>
</svg>
</body></html>
